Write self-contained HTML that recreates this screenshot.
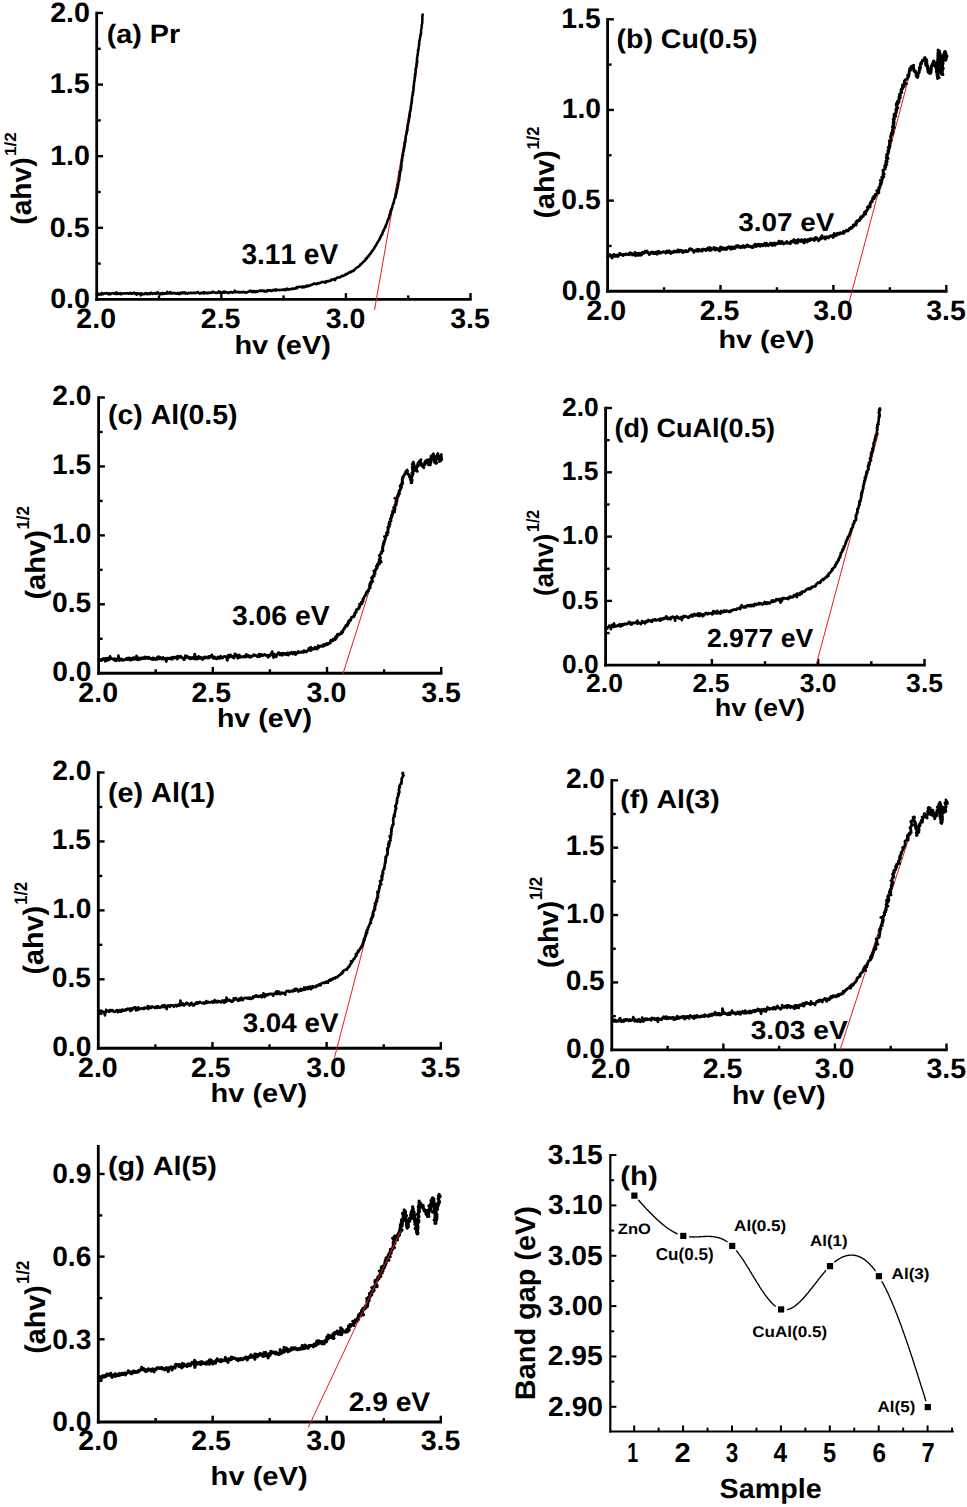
<!DOCTYPE html>
<html lang="en">
<head>
<meta charset="utf-8">
<title>Tauc plots and band gap</title>
<style>
html,body{margin:0;padding:0;background:#fff;}
body{width:967px;height:1507px;overflow:hidden;font-family:"Liberation Sans",sans-serif;}
svg{display:block;}
svg text{font-family:"Liberation Sans",sans-serif;font-kerning:none;text-rendering:geometricPrecision;}
</style>
</head>
<body>
<svg width="967" height="1507" viewBox="0 0 967 1507">
<rect x="0" y="0" width="967" height="1507" fill="#fff"/>
<line x1="96.70" y1="11.80" x2="96.70" y2="300.80" stroke="#000" stroke-width="2.8" stroke-linecap="butt"/>
<line x1="95.30" y1="299.40" x2="471.70" y2="299.40" stroke="#000" stroke-width="2.8" stroke-linecap="butt"/>
<line x1="221.30" y1="299.40" x2="221.30" y2="293.10" stroke="#000" stroke-width="2.4" stroke-linecap="butt"/>
<line x1="345.90" y1="299.40" x2="345.90" y2="293.10" stroke="#000" stroke-width="2.4" stroke-linecap="butt"/>
<line x1="470.50" y1="299.40" x2="470.50" y2="293.10" stroke="#000" stroke-width="2.4" stroke-linecap="butt"/>
<line x1="159.00" y1="299.40" x2="159.00" y2="295.40" stroke="#000" stroke-width="2.4" stroke-linecap="butt"/>
<line x1="283.60" y1="299.40" x2="283.60" y2="295.40" stroke="#000" stroke-width="2.4" stroke-linecap="butt"/>
<line x1="408.20" y1="299.40" x2="408.20" y2="295.40" stroke="#000" stroke-width="2.4" stroke-linecap="butt"/>
<line x1="96.70" y1="13.00" x2="103.00" y2="13.00" stroke="#000" stroke-width="2.4" stroke-linecap="butt"/>
<line x1="96.70" y1="84.60" x2="103.00" y2="84.60" stroke="#000" stroke-width="2.4" stroke-linecap="butt"/>
<line x1="96.70" y1="156.20" x2="103.00" y2="156.20" stroke="#000" stroke-width="2.4" stroke-linecap="butt"/>
<line x1="96.70" y1="227.80" x2="103.00" y2="227.80" stroke="#000" stroke-width="2.4" stroke-linecap="butt"/>
<line x1="96.70" y1="48.80" x2="100.70" y2="48.80" stroke="#000" stroke-width="2.4" stroke-linecap="butt"/>
<line x1="96.70" y1="120.40" x2="100.70" y2="120.40" stroke="#000" stroke-width="2.4" stroke-linecap="butt"/>
<line x1="96.70" y1="192.00" x2="100.70" y2="192.00" stroke="#000" stroke-width="2.4" stroke-linecap="butt"/>
<line x1="96.70" y1="263.60" x2="100.70" y2="263.60" stroke="#000" stroke-width="2.4" stroke-linecap="butt"/>
<text transform="translate(50.14,21.80) scale(1.0243,1)" font-size="28.00" font-weight="bold" fill="#000">2.0</text>
<text transform="translate(49.85,93.40) scale(1.0096,1)" font-size="28.41" font-weight="bold" fill="#000">1.5</text>
<text transform="translate(50.14,165.00) scale(1.0243,1)" font-size="28.00" font-weight="bold" fill="#000">1.0</text>
<text transform="translate(49.85,236.60) scale(1.0243,1)" font-size="28.00" font-weight="bold" fill="#000">0.5</text>
<text transform="translate(50.14,308.20) scale(1.0243,1)" font-size="28.00" font-weight="bold" fill="#000">0.0</text>
<text transform="translate(76.34,327.80) scale(1.0189,1)" font-size="28.00" font-weight="bold" fill="#000">2.0</text>
<text transform="translate(200.80,327.80) scale(1.0189,1)" font-size="28.00" font-weight="bold" fill="#000">2.5</text>
<text transform="translate(325.69,327.80) scale(1.0189,1)" font-size="28.00" font-weight="bold" fill="#000">3.0</text>
<text transform="translate(450.14,327.80) scale(1.0189,1)" font-size="28.00" font-weight="bold" fill="#000">3.5</text>
<text transform="translate(106.71,42.50) scale(1.0851,1)" font-size="26.48" font-weight="bold" fill="#000">(a) Pr</text>
<text transform="translate(241.44,263.70) scale(0.9776,1)" font-size="28.71" font-weight="bold" fill="#000">3.11 eV</text>
<text transform="translate(234.42,353.60) scale(1.1044,1)" font-size="26.21" font-weight="bold" fill="#000">hv (eV)</text>
<text transform="translate(31.30,224.67) rotate(-90) scale(0.9955,1)" font-size="28.28" font-weight="bold">(ahv)</text>
<text transform="translate(16.00,156.03) rotate(-90) scale(1.0533,1)" font-size="16.28" font-weight="bold">1/2</text>
<line x1="374.50" y1="310.00" x2="418.25" y2="61.00" stroke="#e41a22" stroke-width="1.0" stroke-linecap="butt"/>
<polyline points="96.7,293.8 97.3,294.2 97.8,294.7 98.3,293.6 98.9,294.8 99.5,294.4 100.0,294.0 100.6,294.3 101.1,294.6 101.6,293.1 102.2,293.2 102.7,293.4 103.3,294.3 103.8,293.7 104.4,293.3 104.9,293.6 105.5,293.4 106.0,293.5 106.6,293.0 107.1,293.0 107.7,293.8 108.2,293.4 108.8,294.4 109.3,293.3 109.9,293.7 110.5,294.1 111.0,293.5 111.5,293.5 112.1,293.3 112.6,293.1 113.2,293.4 113.7,293.2 114.3,293.0 114.9,294.0 115.4,293.1 115.9,293.2 116.5,292.2 117.1,294.1 117.6,293.3 118.1,293.5 118.7,293.7 119.2,293.3 119.8,293.7 120.4,294.2 120.9,293.1 121.5,293.8 122.0,293.9 122.6,293.8 123.1,293.5 123.6,293.2 124.2,293.3 124.7,293.6 125.3,293.3 125.8,293.6 126.4,293.2 126.9,293.5 127.5,293.3 128.0,293.3 128.6,293.7 129.1,293.5 129.7,293.5 130.2,292.7 130.8,293.6 131.3,293.1 131.9,293.7 132.4,293.3 133.0,293.3 133.5,293.0 134.1,292.5 134.6,293.5 135.2,294.0 135.8,293.9 136.3,293.1 136.9,294.7 137.4,293.2 137.9,293.4 138.5,293.5 139.1,293.8 139.6,293.2 140.2,293.9 140.7,295.4 141.2,293.3 141.8,293.9 142.4,294.4 142.9,293.7 143.5,294.2 144.0,294.3 144.5,293.5 145.1,293.5 145.6,293.0 146.2,294.1 146.7,293.3 147.3,293.3 147.9,294.2 148.4,293.5 149.0,293.6 149.5,293.1 150.1,294.2 150.6,293.2 151.1,292.7 151.7,293.4 152.2,293.3 152.8,294.0 153.3,293.4 153.9,293.6 154.4,293.1 155.0,293.4 155.6,293.9 156.1,293.0 156.6,292.8 157.2,293.6 157.7,292.1 158.3,293.0 158.8,293.3 159.4,293.6 160.0,294.5 160.5,293.3 161.1,293.4 161.6,293.4 162.2,294.1 162.7,292.8 163.3,293.9 163.8,293.2 164.4,293.5 164.9,293.8 165.4,293.2 166.0,293.1 166.6,293.8 167.1,291.8 167.6,293.2 168.2,293.4 168.7,292.7 169.3,292.8 169.8,293.3 170.4,292.0 171.0,293.5 171.5,292.7 172.0,293.3 172.6,293.5 173.1,293.2 173.7,292.7 174.3,293.4 174.8,293.1 175.3,293.0 175.9,293.7 176.5,293.7 177.0,293.3 177.5,292.8 178.1,293.7 178.6,293.0 179.2,294.1 179.7,293.1 180.3,292.6 180.9,293.7 181.4,293.0 181.9,293.1 182.5,292.2 183.0,293.2 183.6,293.0 184.1,292.2 184.7,292.6 185.3,293.6 185.8,292.9 186.4,293.3 186.9,293.0 187.5,293.7 188.0,293.2 188.5,292.8 189.1,293.3 189.6,293.1 190.2,293.1 190.7,292.6 191.3,293.3 191.8,292.8 192.4,293.0 192.9,293.1 193.5,293.0 194.0,292.5 194.6,292.8 195.2,293.2 195.7,293.1 196.2,292.5 196.8,292.7 197.3,292.5 197.9,291.9 198.4,292.7 199.0,292.9 199.6,293.6 200.1,293.2 200.6,293.1 201.2,293.5 201.7,292.7 202.3,292.6 202.8,292.9 203.4,293.4 203.9,292.1 204.5,293.4 205.0,292.9 205.6,293.1 206.1,292.5 206.7,292.7 207.3,293.3 207.8,292.8 208.4,293.2 208.9,292.6 209.4,293.0 210.0,292.9 210.5,292.7 211.1,292.9 211.6,292.0 212.2,292.6 212.7,291.7 213.3,292.2 213.8,292.1 214.4,292.1 214.9,292.6 215.5,292.9 216.1,293.1 216.6,292.8 217.1,292.4 217.7,292.9 218.2,292.7 218.8,291.3 219.3,292.3 219.9,292.9 220.4,291.9 221.0,293.1 221.5,292.7 222.1,292.5 222.6,292.8 223.2,292.4 223.7,291.5 224.3,291.4 224.8,292.8 225.4,291.9 225.9,292.0 226.5,292.2 227.0,292.5 227.6,292.8 228.1,292.4 228.7,293.1 229.3,292.7 229.8,292.4 230.3,292.0 230.9,291.9 231.4,292.1 232.0,292.5 232.6,292.7 233.1,292.4 233.6,292.3 234.2,292.0 234.7,290.6 235.3,292.2 235.8,291.6 236.4,291.8 236.9,292.3 237.5,291.9 238.0,292.2 238.6,291.7 239.1,292.0 239.7,292.4 240.2,292.4 240.8,292.2 241.3,292.0 241.9,292.3 242.4,292.4 243.0,291.7 243.5,291.7 244.1,292.0 244.7,292.5 245.2,292.5 245.7,292.2 246.3,292.7 246.8,292.0 247.4,292.3 247.9,291.9 248.5,291.8 249.0,291.2 249.6,291.5 250.1,290.6 250.7,291.1 251.2,291.4 251.8,292.0 252.3,290.9 252.9,291.9 253.5,292.1 254.0,291.0 254.6,292.1 255.1,292.2 255.6,291.9 256.2,291.0 256.8,292.0 257.3,291.2 257.8,291.7 258.4,291.1 258.9,290.9 259.4,290.6 260.0,290.4 260.6,291.2 261.1,290.6 261.6,290.8 262.2,290.6 262.7,290.5 263.3,291.2 263.8,290.5 264.4,291.4 265.0,291.1 265.5,291.0 266.1,291.8 266.6,291.2 267.1,290.4 267.7,291.1 268.2,290.1 268.8,290.7 269.3,290.4 269.9,290.5 270.4,290.1 271.0,291.0 271.6,290.8 272.1,290.9 272.6,290.1 273.2,290.4 273.7,289.7 274.3,290.2 274.8,289.6 275.3,289.4 276.0,290.6 276.5,289.7 277.0,289.8 277.6,289.8 278.1,290.1 278.7,289.9 279.2,290.0 279.8,290.2 280.3,289.9 280.9,289.8 281.4,289.7 282.0,290.1 282.5,289.9 283.0,289.4 283.6,289.4 284.2,290.0 284.7,289.4 285.3,290.3 285.8,289.5 286.4,289.6 286.8,288.5 287.5,289.3 288.1,289.8 288.6,289.6 289.1,289.2 289.6,288.9 290.2,289.3 290.8,289.3 291.3,289.3 291.8,288.7 292.3,288.5 292.9,289.0 293.4,288.5 294.0,288.5 294.6,288.7 295.2,288.8 295.6,288.0 296.2,288.2 296.6,287.1 297.3,288.2 297.7,287.2 298.2,287.0 298.7,286.7 299.3,286.9 299.8,286.7 300.4,286.9 301.0,287.2 301.6,287.3 302.2,287.4 302.5,286.4 303.2,286.8 303.9,287.4 304.2,286.5 304.9,287.0 305.4,286.7 306.0,286.6 306.3,285.7 306.9,285.6 307.6,286.5 308.0,285.7 308.6,286.0 309.1,285.3 309.7,285.8 310.3,285.6 310.7,284.9 311.2,284.8 311.8,284.9 312.2,284.5 312.8,284.3 313.3,284.2 313.7,283.6 314.2,283.4 314.9,283.8 315.5,284.0 316.0,283.7 316.7,284.2 317.2,284.1 317.6,283.1 318.1,282.9 318.8,283.5 319.3,283.3 319.7,282.8 320.4,283.0 320.9,282.7 321.3,282.3 321.8,282.0 322.3,281.8 323.0,282.1 323.6,282.2 324.1,282.1 324.6,281.7 325.4,282.7 325.9,282.3 326.2,281.3 326.8,281.4 327.3,281.0 328.0,281.5 328.4,281.0 328.9,280.8 329.6,281.1 330.1,280.8 330.6,280.7 331.1,280.6 331.4,279.5 332.0,279.5 332.6,279.8 333.1,279.3 333.7,279.6 334.2,279.4 335.1,280.2 335.1,278.6 335.8,278.8 336.2,278.5 336.7,278.2 337.1,277.7 337.6,277.3 338.3,277.6 338.9,277.6 339.4,277.6 340.0,277.4 340.3,276.7 340.8,276.5 341.4,276.6 341.9,276.2 342.2,275.7 342.8,275.7 343.6,276.0 343.9,275.4 344.4,275.3 344.9,275.0 345.5,274.8 345.6,273.9 346.5,274.4 346.9,274.1 347.3,273.7 347.8,273.4 348.3,273.1 348.6,272.6 349.2,272.6 349.9,272.6 350.1,271.9 350.7,271.8 351.4,271.9 351.6,271.3 352.3,271.2 352.6,270.7 353.5,271.0 353.9,270.7 354.1,270.0 354.5,269.6 355.1,269.5 355.4,268.9 355.7,268.4 356.1,268.1 356.4,267.6 357.0,267.4 357.5,267.2 358.2,267.2 358.4,266.5 358.9,266.3 359.4,266.0 359.8,265.7 360.0,265.0 360.3,264.5 360.8,264.3 361.2,263.9 361.7,263.6 362.2,263.4 362.3,262.7 362.8,262.4 363.3,262.1 363.6,261.7 363.8,261.1 364.6,261.0 365.0,260.7 365.2,260.1 365.5,259.7 366.0,259.4 365.7,258.4 366.8,258.6 366.9,258.0 367.4,257.7 367.4,256.9 367.8,256.6 368.2,256.2 368.8,256.0 368.9,255.3 369.2,254.9 369.5,254.5 370.2,254.2 370.5,253.8 370.6,253.2 370.9,252.7 371.6,252.6 371.6,251.9 371.7,251.3 372.3,251.0 372.5,250.5 373.0,250.1 373.1,249.6 373.5,249.2 373.9,248.8 374.3,248.4 374.2,247.7 374.6,247.3 375.0,246.9 375.2,246.3 375.5,245.9 375.9,245.5 376.2,245.0 376.5,244.5 376.6,244.0 377.0,243.6 377.1,243.0 377.5,242.6 377.8,242.1 378.1,241.7 378.4,241.2 378.5,240.7 379.1,240.3 379.3,239.8 379.4,239.3 379.8,238.9 379.8,238.2 380.4,237.9 380.3,237.2 380.7,236.8 380.8,236.3 381.2,235.9 381.2,235.2 381.5,234.8 382.2,234.5 382.3,233.9 382.5,233.4 382.5,232.8 382.7,232.3 382.8,231.8 383.4,231.4 383.6,230.9 383.4,230.2 384.1,229.9 384.2,229.3 384.4,228.9 384.7,228.4 384.8,227.8 385.2,227.4 385.6,227.0 385.3,226.3 385.8,225.8 385.8,225.3 386.2,224.8 386.4,224.3 386.6,223.8 386.7,223.3 387.1,222.8 387.1,222.2 387.2,221.7 387.3,221.1 387.7,220.7 387.9,220.2 388.2,219.7 388.0,219.1 388.6,218.7 388.9,218.2 388.9,217.6 389.0,217.0 389.2,216.5 389.4,216.0 389.5,215.5 389.3,214.8 390.1,214.5 389.9,213.9 390.0,213.3 390.4,212.9 390.3,212.3 390.4,211.7 390.9,211.3 390.8,210.7 391.1,210.2 391.5,209.8 391.3,209.1 391.8,208.7 391.7,208.1 392.4,207.7 392.2,207.1 392.2,206.5 392.4,206.0 392.5,205.5 392.6,204.9 392.9,204.5 393.1,203.9 393.4,203.4 393.8,203.0 393.6,202.4 394.0,201.9 394.1,201.4 394.0,200.8 394.1,200.2 394.3,199.7 394.5,199.2 394.8,198.7 395.1,198.2 395.4,197.7 395.2,197.1 395.7,196.7 395.5,196.0 395.9,195.6 396.1,195.1 395.7,194.4 396.0,193.9 396.5,193.5 396.3,192.8 396.6,192.3 396.5,191.8 397.0,191.3 396.7,190.7 396.8,190.1 397.2,189.6 397.1,189.1 397.2,188.5 397.3,188.0 397.8,187.5 397.7,186.9 397.7,186.4 398.0,185.9 397.5,185.2 398.2,184.8 398.2,184.3 398.3,183.7 398.3,183.1 398.5,182.6 398.6,182.1 398.7,181.5 398.7,181.0 398.9,180.5 399.3,180.0 399.1,179.4 399.4,178.9 399.1,178.3 399.3,177.7 399.4,177.2 399.6,176.7 399.4,176.1 399.8,175.6 399.6,175.0 399.8,174.5 399.7,173.9 400.1,173.4 400.0,172.8 399.6,172.2 400.3,171.8 400.3,171.2 400.7,170.7 400.4,170.1 401.2,169.7 401.0,169.1 401.0,168.5 401.0,168.0 401.3,167.5 401.1,166.9 401.4,166.4 401.5,165.8 401.4,165.3 401.4,164.7 401.4,164.1 401.4,163.6 401.7,163.1 401.6,162.5 401.6,162.0 401.8,161.4 401.8,160.9 402.2,160.4 402.0,159.8 402.0,159.2 402.2,158.7 402.3,158.2 402.6,157.7 402.4,157.1 402.4,156.5 402.6,156.0 402.5,155.4 403.1,155.0 403.3,154.4 403.1,153.8 403.0,153.3 403.1,152.7 403.1,152.2 403.5,151.7 403.3,151.1 403.6,150.6 403.9,150.1 404.0,149.5 403.9,149.0 403.9,148.4 404.0,147.9 404.5,147.4 404.4,146.8 404.2,146.2 404.6,145.7 404.7,145.2 404.7,144.6 404.6,144.1 404.8,143.5 404.6,142.9 405.0,142.4 405.5,142.0 405.4,141.4 405.3,140.8 405.5,140.3 405.5,139.7 405.6,139.2 405.6,138.6 405.6,138.1 405.8,137.6 405.8,137.0 405.9,136.5 405.9,135.9 406.1,135.4 406.3,134.9 406.3,134.3 406.4,133.8 406.8,133.3 406.6,132.7 406.8,132.2 406.8,131.6 407.0,131.1 407.5,130.6 407.1,130.0 407.5,129.5 407.5,128.9 407.3,128.3 407.4,127.8 407.4,127.2 407.6,126.7 407.8,126.2 407.8,125.6 407.7,125.1 408.1,124.6 408.0,124.0 408.2,123.5 408.4,122.9 408.5,122.4 408.7,121.9 408.7,121.3 408.7,120.8 408.8,120.2 409.1,119.7 408.8,119.1 409.1,118.6 408.9,118.0 409.3,117.5 409.6,117.0 409.5,116.4 409.3,115.8 409.9,115.4 409.4,114.7 409.7,114.2 409.9,113.7 410.0,113.2 409.9,112.6 409.8,112.0 410.1,111.5 410.5,111.0 410.5,110.5 410.7,109.9 410.7,109.4 410.7,108.8 410.8,108.3 410.9,107.7 411.1,107.2 410.8,106.6 411.1,106.1 411.0,105.5 411.3,105.0 411.2,104.5 411.4,103.9 411.6,103.4 411.6,102.8 411.7,102.3 411.8,101.8 412.0,101.2 411.7,100.6 411.7,100.1 412.0,99.6 411.8,99.0 412.2,98.5 412.0,97.9 412.0,97.3 412.3,96.8 412.2,96.3 412.3,95.7 412.6,95.2 413.0,94.7 412.9,94.1 412.7,93.6 412.6,93.0 413.2,92.5 412.9,91.9 413.3,91.4 413.2,90.8 413.3,90.3 413.6,89.8 413.6,89.2 413.6,88.7 413.3,88.1 413.6,87.6 413.7,87.0 413.5,86.4 413.9,85.9 413.8,85.4 413.8,84.8 414.1,84.3 414.0,83.7 413.9,83.2 414.1,82.6 414.1,82.1 414.3,81.6 414.2,81.0 414.6,80.5 414.4,79.9 414.5,79.4 414.6,78.8 414.8,78.3 414.9,77.8 414.7,77.2 415.2,76.7 415.2,76.1 414.9,75.5 415.3,75.0 414.9,74.4 415.1,73.9 415.4,73.4 415.5,72.8 415.5,72.3 415.7,71.8 415.8,71.2 415.4,70.6 415.6,70.1 415.5,69.5 415.5,69.0 415.7,68.4 415.9,67.9 416.2,67.4 416.0,66.8 416.3,66.3 416.4,65.7 416.6,65.2 416.3,64.6 416.6,64.1 416.5,63.5 416.7,63.0 416.6,62.5 416.9,61.9 416.9,61.4 417.0,60.8 417.1,60.3 416.8,59.7 417.1,59.2 417.0,58.6 417.0,58.1 417.2,57.5 417.3,57.0 417.3,56.4 417.4,55.9 417.7,55.4 417.8,54.8 417.5,54.2 417.6,53.7 417.8,53.2 418.0,52.6 418.2,52.1 418.0,51.5 418.1,51.0 417.8,50.4 418.5,49.9 418.3,49.4 418.6,48.8 418.6,48.3 418.5,47.7 418.7,47.2 418.9,46.7 419.0,46.1 419.0,45.6 418.8,45.0 419.2,44.5 419.1,43.9 419.3,43.4 419.3,42.8 419.2,42.3 419.2,41.7 419.4,41.2 419.4,40.6 419.8,40.1 419.9,39.6 419.8,39.0 420.0,38.5 420.0,37.9 420.2,37.4 420.2,36.8 420.3,36.3 420.4,35.8 420.4,35.2 420.8,34.7 420.7,34.2 421.1,33.6 421.2,33.1 420.9,32.5 421.1,32.0 421.2,31.4 421.1,30.9 421.0,30.3 421.1,29.8 421.2,29.2 421.5,28.7 421.6,28.2 421.7,27.6 421.6,27.1 421.7,26.5 421.8,26.0 421.6,25.4 421.8,24.9 421.9,24.3 422.2,23.8 422.2,23.2 422.3,22.7 422.2,22.1 422.3,21.6 422.4,21.0 422.3,20.5 422.2,19.9 422.5,19.4 422.4,18.8 422.3,18.3 422.4,17.7 422.4,17.2 422.4,16.6 422.1,16.1 422.6,15.5 422.6,15.0 422.7,14.4" fill="none" stroke="#000" stroke-width="2.5" stroke-linejoin="round" stroke-linecap="round"/>
<line x1="607.60" y1="18.10" x2="607.60" y2="292.65" stroke="#000" stroke-width="2.8" stroke-linecap="butt"/>
<line x1="606.20" y1="291.25" x2="947.50" y2="291.25" stroke="#000" stroke-width="2.8" stroke-linecap="butt"/>
<line x1="720.50" y1="291.25" x2="720.50" y2="284.95" stroke="#000" stroke-width="2.4" stroke-linecap="butt"/>
<line x1="833.40" y1="291.25" x2="833.40" y2="284.95" stroke="#000" stroke-width="2.4" stroke-linecap="butt"/>
<line x1="946.30" y1="291.25" x2="946.30" y2="284.95" stroke="#000" stroke-width="2.4" stroke-linecap="butt"/>
<line x1="664.05" y1="291.25" x2="664.05" y2="287.25" stroke="#000" stroke-width="2.4" stroke-linecap="butt"/>
<line x1="776.95" y1="291.25" x2="776.95" y2="287.25" stroke="#000" stroke-width="2.4" stroke-linecap="butt"/>
<line x1="889.85" y1="291.25" x2="889.85" y2="287.25" stroke="#000" stroke-width="2.4" stroke-linecap="butt"/>
<line x1="607.60" y1="19.30" x2="613.90" y2="19.30" stroke="#000" stroke-width="2.4" stroke-linecap="butt"/>
<line x1="607.60" y1="109.95" x2="613.90" y2="109.95" stroke="#000" stroke-width="2.4" stroke-linecap="butt"/>
<line x1="607.60" y1="200.60" x2="613.90" y2="200.60" stroke="#000" stroke-width="2.4" stroke-linecap="butt"/>
<line x1="607.60" y1="64.62" x2="611.60" y2="64.62" stroke="#000" stroke-width="2.4" stroke-linecap="butt"/>
<line x1="607.60" y1="155.27" x2="611.60" y2="155.27" stroke="#000" stroke-width="2.4" stroke-linecap="butt"/>
<line x1="607.60" y1="245.93" x2="611.60" y2="245.93" stroke="#000" stroke-width="2.4" stroke-linecap="butt"/>
<text transform="translate(561.37,27.80) scale(0.9963,1)" font-size="28.41" font-weight="bold" fill="#000">1.5</text>
<text transform="translate(561.65,118.45) scale(1.0108,1)" font-size="28.00" font-weight="bold" fill="#000">1.0</text>
<text transform="translate(561.37,209.10) scale(1.0108,1)" font-size="28.00" font-weight="bold" fill="#000">0.5</text>
<text transform="translate(561.65,299.75) scale(1.0108,1)" font-size="28.00" font-weight="bold" fill="#000">0.0</text>
<text transform="translate(586.54,319.70) scale(1.0189,1)" font-size="28.00" font-weight="bold" fill="#000">2.0</text>
<text transform="translate(699.80,319.70) scale(1.0189,1)" font-size="28.00" font-weight="bold" fill="#000">2.5</text>
<text transform="translate(813.19,319.70) scale(1.0189,1)" font-size="28.00" font-weight="bold" fill="#000">3.0</text>
<text transform="translate(926.24,319.70) scale(1.0189,1)" font-size="28.00" font-weight="bold" fill="#000">3.5</text>
<text transform="translate(616.46,47.70) scale(1.0617,1)" font-size="26.90" font-weight="bold" fill="#000">(b) Cu(0.5)</text>
<text transform="translate(738.19,231.25) scale(1.0859,1)" font-size="25.71" font-weight="bold" fill="#000">3.07 eV</text>
<text transform="translate(718.38,347.50) scale(1.1474,1)" font-size="25.10" font-weight="bold" fill="#000">hv (eV)</text>
<text transform="translate(554.20,218.49) rotate(-90) scale(1.0275,1)" font-size="27.86" font-weight="bold">(ahv)</text>
<text transform="translate(539.00,149.59) rotate(-90) scale(0.9508,1)" font-size="17.38" font-weight="bold">1/2</text>
<line x1="849.25" y1="301.75" x2="909.50" y2="75.00" stroke="#e41a22" stroke-width="1.0" stroke-linecap="butt"/>
<polyline points="607.6,256.6 608.1,256.0 608.7,255.9 609.3,256.1 609.7,254.5 610.4,256.0 610.9,256.4 611.5,256.9 612.1,258.0 612.5,255.1 613.1,255.7 613.7,256.1 614.1,254.4 614.8,256.6 615.3,255.1 615.8,255.4 616.4,255.7 616.9,254.9 617.6,256.6 618.1,256.3 618.5,254.9 619.1,255.4 619.6,253.4 620.1,254.0 620.7,253.7 621.3,254.6 621.8,254.5 622.4,254.8 623.0,255.6 623.5,254.6 624.0,254.2 624.6,254.5 625.2,254.8 625.7,254.0 626.3,254.6 626.8,254.0 627.3,254.2 627.9,254.5 628.4,253.9 629.0,254.8 629.5,253.1 630.0,252.8 630.6,254.0 631.1,253.2 631.7,253.4 632.3,255.0 632.9,254.6 633.4,254.4 634.0,254.8 634.5,254.5 634.9,252.3 635.7,255.9 636.2,254.4 636.7,254.3 637.2,253.2 637.8,254.8 638.4,255.4 638.8,253.1 639.4,254.1 640.0,254.7 640.6,255.3 641.0,253.1 641.7,254.9 642.2,253.4 642.6,252.2 643.2,253.2 643.8,253.4 644.3,252.9 644.8,251.8 645.3,251.1 645.9,251.6 646.5,252.2 647.0,251.0 647.6,252.9 648.1,252.4 648.8,253.2 649.4,254.6 649.9,253.7 650.4,253.6 650.9,252.4 651.5,252.6 652.0,252.0 652.6,253.3 653.2,253.5 653.6,252.1 654.3,253.6 654.8,252.6 655.4,253.2 656.0,253.8 656.4,251.8 657.1,254.2 657.6,253.7 658.1,253.2 658.5,251.2 659.2,253.1 659.7,252.1 660.3,252.1 660.9,253.1 661.4,252.5 661.9,252.4 662.5,252.0 663.0,252.0 663.5,251.6 664.1,252.1 664.6,251.8 665.2,252.2 665.8,253.1 666.3,251.6 666.8,251.0 667.4,251.8 668.0,252.5 668.5,251.1 669.0,250.7 669.6,251.4 670.2,252.3 670.8,253.5 671.3,251.9 671.9,252.5 672.4,252.7 673.0,252.6 673.4,251.5 674.0,251.0 674.6,252.0 675.1,251.8 675.7,252.0 676.2,251.1 676.8,251.7 677.3,251.4 677.8,249.9 678.4,251.8 679.0,251.9 679.5,251.9 680.0,250.2 680.6,250.5 681.1,250.8 681.7,250.4 682.3,252.1 682.9,252.6 683.3,251.0 683.9,251.8 684.5,251.4 685.0,251.7 685.5,250.5 686.1,250.7 686.7,251.8 687.2,251.3 687.8,251.5 688.3,250.9 688.8,250.4 689.3,249.2 689.8,248.9 690.4,248.7 691.0,249.5 691.5,249.6 692.1,249.2 692.7,250.6 693.2,250.8 693.9,252.3 694.4,251.0 694.9,250.8 695.4,250.1 696.0,250.3 696.6,251.0 697.0,249.5 697.6,249.2 698.2,251.4 698.7,250.7 699.2,249.4 699.8,250.3 700.4,250.4 700.9,250.2 701.5,251.2 702.1,251.1 702.5,249.2 703.1,250.1 703.6,249.1 704.2,249.6 704.7,249.5 705.3,249.2 705.9,250.6 706.4,249.9 707.0,249.9 707.4,248.5 707.9,247.8 708.6,248.9 709.2,250.2 709.7,249.1 710.1,247.5 710.8,250.3 711.4,250.1 711.8,248.5 712.4,248.8 712.9,248.4 713.5,249.0 714.0,247.4 714.7,249.7 715.2,250.1 715.7,248.2 716.3,248.8 716.8,248.5 717.4,249.4 717.9,248.6 718.5,249.7 719.2,250.9 719.7,251.0 720.2,250.0 720.5,246.9 721.3,249.5 721.7,248.1 722.4,249.4 722.8,247.6 723.5,249.4 724.0,248.9 724.5,248.2 725.1,248.6 725.7,249.4 726.1,248.1 726.8,249.2 727.2,247.4 727.7,247.5 728.3,247.7 728.8,246.7 729.4,247.9 729.9,247.3 730.6,249.2 731.0,246.8 731.6,247.3 732.2,247.9 732.8,248.9 733.2,246.9 733.9,248.1 734.4,247.9 735.0,248.4 735.4,246.6 736.0,247.4 736.4,245.7 736.9,245.6 737.5,245.7 738.0,245.4 738.7,247.3 739.2,246.8 739.8,247.1 740.5,247.7 740.9,246.4 741.5,247.2 742.1,247.3 742.5,246.2 743.0,245.6 743.6,245.9 744.3,247.5 744.7,246.1 745.4,247.0 745.8,246.2 746.4,246.7 746.9,245.8 747.3,244.9 747.9,245.4 748.6,246.3 749.2,246.8 749.7,246.3 750.3,246.6 750.8,246.3 751.5,247.4 752.0,246.8 752.6,247.5 753.1,247.5 753.5,245.8 754.0,245.2 754.7,246.2 755.0,244.1 755.7,245.1 756.4,246.6 756.7,244.3 757.3,244.8 757.9,244.9 758.3,244.1 759.0,245.7 759.5,244.4 760.2,246.4 760.7,245.4 761.1,244.5 761.7,244.5 762.2,244.6 762.9,245.8 763.3,244.4 763.9,244.7 764.4,244.3 764.9,243.1 765.7,245.8 766.0,243.5 766.5,243.2 767.1,243.8 767.8,244.6 768.4,245.8 768.9,244.6 769.4,244.6 770.0,244.7 770.4,243.0 771.0,243.9 771.5,243.3 772.3,245.6 772.7,243.7 773.2,243.8 773.8,244.4 774.2,242.9 775.0,245.3 775.4,243.4 776.0,243.6 776.5,243.7 777.1,243.9 777.6,243.4 778.1,242.5 778.7,242.9 779.1,241.2 779.8,243.5 780.3,243.2 780.9,243.5 781.3,241.5 781.8,241.4 782.4,241.9 783.2,243.7 783.7,244.0 784.2,243.3 784.8,243.2 785.3,242.8 785.8,242.6 786.4,243.1 786.8,241.5 787.5,242.6 788.1,243.2 788.6,242.7 789.2,243.0 789.7,243.2 790.3,243.8 790.7,242.2 791.2,241.2 791.8,242.1 792.4,242.2 792.8,240.9 793.4,241.3 793.8,239.6 794.5,241.5 795.3,243.0 795.6,241.1 796.1,240.4 796.7,240.9 797.5,243.0 797.9,241.9 798.2,239.3 798.9,241.1 799.5,241.0 800.0,240.5 800.6,241.4 801.1,240.8 801.5,239.6 802.2,240.6 802.9,242.0 803.3,240.4 804.1,243.0 804.6,242.1 804.8,239.4 805.4,240.1 806.0,240.4 806.6,240.2 807.4,242.0 807.6,239.7 808.2,240.0 808.7,239.5 809.4,240.5 809.7,238.9 810.5,240.3 810.8,238.7 811.4,239.0 811.9,239.0 812.6,239.5 813.1,239.1 813.7,239.7 814.4,240.5 814.6,238.5 815.3,239.4 815.6,237.3 816.2,238.1 816.8,237.8 817.6,239.4 818.4,240.8 818.8,240.1 819.4,240.0 819.8,239.3 820.1,238.1 820.8,238.8 821.4,238.7 821.5,236.4 821.9,235.6 822.9,237.7 823.3,237.2 824.1,238.2 824.4,236.8 825.4,239.1 825.6,237.4 826.1,237.3 826.6,236.8 827.2,237.1 827.9,237.4 828.5,237.9 828.9,237.2 829.3,236.5 829.8,236.1 830.4,236.3 830.8,235.6 831.5,235.8 832.1,236.2 833.0,237.5 833.2,236.1 833.4,234.8 834.3,236.1 834.2,233.4 835.4,235.9 835.8,235.0 836.1,234.3 836.9,235.0 837.1,233.7 837.5,233.1 838.2,233.5 839.0,234.3 839.5,234.1 839.7,233.1 840.2,232.7 841.0,233.3 841.5,233.1 842.2,233.4 842.8,233.3 842.9,232.2 844.0,233.3 843.7,231.2 844.6,231.8 845.1,231.7 845.5,231.2 846.0,231.1 846.2,230.3 847.1,230.7 847.9,231.0 848.0,230.1 848.8,230.2 848.9,229.4 849.1,228.7 849.8,228.8 850.4,228.7 850.7,228.2 850.8,227.4 852.0,228.0 852.2,227.4 852.7,227.1 852.9,226.5 853.6,226.4 853.1,225.0 854.4,225.7 854.3,224.7 855.0,224.7 856.2,225.0 855.8,223.9 856.5,223.8 855.8,222.4 856.9,222.7 856.6,221.6 856.7,221.0 857.2,220.7 858.4,221.1 859.0,220.8 858.8,219.9 859.9,220.2 859.8,219.3 860.3,219.0 860.8,218.7 860.4,217.7 861.7,218.0 860.9,216.7 862.0,216.9 862.5,216.5 863.3,216.4 863.2,215.7 863.2,215.0 863.7,214.7 864.2,214.3 864.6,213.9 865.7,214.0 864.4,212.4 865.1,212.3 866.1,212.3 865.8,211.4 865.8,210.8 866.7,210.7 867.1,210.3 867.3,209.7 867.7,209.3 868.1,209.0 867.7,208.1 867.3,207.2 868.3,207.2 868.4,206.5 870.2,207.0 870.0,206.2 869.9,205.5 869.8,204.8 870.4,204.5 870.4,203.9 870.1,203.1 870.6,202.7 870.9,202.3 871.0,201.7 872.2,201.8 872.1,201.1 872.0,200.4 872.5,200.0 872.7,199.5 873.0,199.0 872.6,198.1 874.2,198.6 874.3,197.9 874.3,197.3 873.8,196.3 875.3,196.6 875.1,195.8 875.4,195.4 876.0,195.1 875.4,194.1 876.4,194.1 876.8,193.6 877.5,193.4 877.6,192.8 878.9,192.8 877.6,191.6 876.8,190.6 878.9,190.9 878.5,190.2 878.7,189.7 879.3,189.3 879.2,188.7 878.6,187.9 879.5,187.6 880.1,187.2 879.5,186.4 879.7,185.9 879.9,185.4 880.3,185.0 881.1,184.6 880.2,183.8 880.5,183.3 880.5,182.7 881.7,182.5 881.1,181.8 881.8,181.4 880.2,180.4 881.8,180.2 882.3,179.8 882.2,179.2 882.2,178.6 882.6,178.2 881.6,177.4 883.4,177.2 883.9,176.8 883.1,176.0 883.3,175.5 882.9,174.9 883.0,174.3 884.3,174.1 883.6,173.3 883.3,172.7 883.1,172.1 883.3,171.5 883.1,170.9 882.8,170.3 883.3,169.8 884.1,169.5 885.2,169.2 885.0,168.6 885.0,168.0 884.8,167.4 885.8,167.0 884.6,166.2 884.8,165.7 884.9,165.2 885.9,164.8 886.8,164.5 885.8,163.7 885.8,163.1 885.6,162.5 886.8,162.2 887.2,161.7 886.0,160.9 886.8,160.5 886.6,159.9 886.6,159.3 887.0,158.9 888.1,158.5 886.2,157.5 887.4,157.2 887.0,156.6 887.3,156.1 886.9,155.5 886.5,154.8 887.6,154.5 887.3,153.9 887.6,153.4 888.4,153.0 888.2,152.4 888.3,151.8 888.8,151.4 887.8,150.6 888.3,150.1 888.9,149.7 888.6,149.1 889.2,148.6 889.0,148.0 888.1,147.3 889.7,147.0 889.2,146.4 890.0,146.0 889.7,145.4 889.3,144.7 889.6,144.2 889.8,143.7 889.4,143.1 889.8,142.6 890.1,142.1 889.4,141.4 889.2,140.8 891.2,140.6 890.9,140.0 890.9,139.4 890.8,138.9 890.8,138.3 890.7,137.7 890.8,137.2 890.4,136.6 891.2,136.1 890.8,135.5 891.5,135.1 891.3,134.5 892.3,134.1 891.4,133.4 891.3,132.8 893.0,132.6 892.3,131.9 892.9,131.4 892.3,130.8 892.9,130.3 892.4,129.7 892.8,129.2 892.9,128.6 893.2,128.1 894.2,127.7 892.4,126.9 894.0,126.6 893.0,125.9 892.9,125.3 893.3,124.8 893.9,124.3 893.3,123.7 894.1,123.2 893.0,122.5 893.4,122.0 894.2,121.6 893.7,120.9 893.9,120.4 893.2,119.7 893.2,119.2 894.5,118.9 894.4,118.3 894.4,117.7 893.9,117.0 893.9,116.5 895.7,116.3 894.9,115.6 895.5,115.1 894.0,114.3 895.0,113.9 895.7,113.5 895.6,112.9 896.3,112.5 896.1,111.9 896.1,111.3 896.5,110.8 895.8,110.1 896.9,109.8 896.1,109.1 896.3,108.6 896.7,108.1 897.9,107.8 896.6,106.9 896.7,106.4 897.0,105.9 896.1,105.1 897.0,104.8 897.7,104.4 896.4,103.5 898.0,103.3 897.5,102.6 899.0,102.4 897.3,101.4 898.6,101.2 899.2,100.8 898.8,100.1 898.8,99.5 899.4,99.1 898.9,98.4 899.5,98.0 900.4,97.7 899.0,96.7 899.5,96.3 899.8,95.8 900.3,95.4 899.5,94.6 899.6,94.0 900.3,93.7 900.6,93.2 901.1,92.8 901.8,92.5 901.1,91.6 901.6,91.2 901.2,90.5 901.0,89.8 901.6,89.5 901.4,88.8 902.8,88.8 902.3,88.0 903.0,87.7 902.4,86.8 903.1,86.5 904.3,86.5 902.4,85.0 903.6,84.9 904.4,84.7 904.7,84.2 904.3,83.4 906.3,83.7 904.9,82.5 904.2,81.6 904.4,81.1 904.9,80.7 905.0,80.1 905.6,79.8 906.4,79.6 906.7,79.1 906.7,78.5 907.6,78.3 907.7,77.7 907.8,77.2 908.0,76.7 908.7,76.4 907.6,75.3 908.2,74.9 909.0,74.9 909.1,74.6 909.0,73.6 909.3,70.7 909.2,73.1 909.4,70.1 909.6,69.4 910.6,70.3 909.7,68.8 912.1,67.3 911.0,66.7 910.8,68.1 913.2,65.9 913.8,65.3 913.1,65.6 912.6,65.7 912.9,65.7 913.3,67.9 913.2,69.0 913.7,69.0 913.7,67.6 913.7,69.2 913.9,71.1 915.7,72.3 915.0,71.2 915.5,70.9 916.0,73.2 916.8,74.2 915.9,74.5 916.7,75.1 916.3,76.4 917.5,77.5 917.5,76.5 917.8,77.0 918.0,76.5 918.1,74.1 916.8,74.2 918.1,73.1 919.2,72.7 918.5,72.7 918.8,73.1 920.0,68.5 919.7,70.5 919.0,70.5 919.7,68.5 919.3,67.9 920.7,67.7 920.5,66.8 920.1,66.9 920.3,64.9 920.5,64.9 920.6,63.4 921.6,63.8 920.6,63.8 921.8,61.6 922.7,61.2 922.5,60.2 924.1,60.0 924.0,59.5 925.0,57.6 924.6,57.7 925.0,58.2 924.9,58.4 924.6,57.8 926.6,59.7 926.4,61.4 926.0,60.8 926.1,61.3 927.0,61.4 925.5,62.5 925.7,65.2 926.3,66.0 927.1,63.7 927.2,65.9 927.6,65.8 927.5,69.0 927.4,69.0 927.6,68.2 928.0,72.1 929.7,68.8 929.4,70.9 929.1,71.1 929.8,72.4 929.6,73.5 930.9,73.1 931.1,72.1 930.0,71.2 930.9,70.6 930.9,68.4 931.4,70.3 931.1,66.1 930.9,67.5 930.9,69.9 931.6,67.1 931.7,66.4 932.5,63.4 932.7,63.3 933.2,65.5 933.1,64.1 933.8,60.9 933.3,61.2 934.1,62.7 934.1,61.1 934.4,64.2 934.5,62.4 935.2,66.5 935.5,63.8 936.5,64.8 936.1,69.0 936.0,67.2 936.0,66.8 936.5,68.2 936.8,68.6 936.8,69.5 936.8,70.8 936.3,71.7 936.8,72.5 937.4,73.3 936.9,74.8 937.1,73.1 938.0,75.3 937.6,75.7 937.9,76.7 939.2,77.6 937.5,78.5 937.5,77.2 938.4,75.3 937.3,76.1 937.3,76.5 937.4,73.2 937.6,75.4 938.0,72.2 938.6,72.9 937.2,73.7 936.6,70.2 938.1,68.9 939.1,70.7 938.4,69.9 937.5,69.1 938.0,64.5 937.9,68.8 937.8,67.6 938.4,63.7 939.2,64.3 937.8,65.9 937.2,62.1 938.1,62.1 938.2,60.9 939.1,61.1 938.4,60.6 937.6,59.1 937.7,61.4 938.6,57.7 938.7,57.0 938.1,57.6 937.7,55.8 937.8,55.8 938.9,53.6 937.7,53.6 939.0,52.3 938.4,52.5 938.1,52.9 938.2,52.0 938.0,49.9 938.3,50.5 939.5,50.8 938.8,52.2 939.1,54.0 939.1,54.6 939.1,51.3 940.5,54.5 939.2,56.5 940.2,55.4 940.3,55.9 940.9,59.6 940.6,58.0 938.9,57.7 940.1,58.6 939.6,60.3 939.0,59.8 940.6,61.5 940.3,62.8 939.8,62.4 940.7,63.0 941.5,65.3 941.8,65.0 941.7,66.3 940.6,65.1 942.4,68.0 941.0,66.7 940.5,68.5 941.1,72.1 941.5,69.9 942.1,69.6 942.1,72.1 941.1,72.1 942.4,74.4 942.1,72.3 943.0,74.7 942.3,74.3 941.4,74.1 941.4,72.0 942.4,72.1 942.4,70.1 942.2,69.7 943.3,68.0 943.0,69.4 941.9,68.0 942.8,67.4 942.6,66.4 941.8,65.0 942.4,64.9 942.6,65.4 943.2,63.4 942.1,64.0 943.2,60.7 941.6,60.2 942.2,59.6 943.7,60.3 942.9,60.8 941.3,59.6 942.8,59.3 943.2,59.5 942.9,56.2 943.3,57.4 944.8,56.8 943.4,55.6 944.4,52.0 944.4,53.4 945.1,51.4 945.5,52.0 945.8,52.9 946.0,53.5 946.1,56.2 945.3,55.7 946.5,56.4 945.2,54.7 947.1,56.1 945.9,58.8 946.2,59.3 945.8,60.2 945.6,60.3" fill="none" stroke="#000" stroke-width="2.8" stroke-linejoin="round" stroke-linecap="round"/>
<line x1="98.60" y1="396.30" x2="98.60" y2="674.65" stroke="#000" stroke-width="2.8" stroke-linecap="butt"/>
<line x1="97.20" y1="673.25" x2="442.40" y2="673.25" stroke="#000" stroke-width="2.8" stroke-linecap="butt"/>
<line x1="212.80" y1="673.25" x2="212.80" y2="666.95" stroke="#000" stroke-width="2.4" stroke-linecap="butt"/>
<line x1="327.00" y1="673.25" x2="327.00" y2="666.95" stroke="#000" stroke-width="2.4" stroke-linecap="butt"/>
<line x1="441.20" y1="673.25" x2="441.20" y2="666.95" stroke="#000" stroke-width="2.4" stroke-linecap="butt"/>
<line x1="155.70" y1="673.25" x2="155.70" y2="669.25" stroke="#000" stroke-width="2.4" stroke-linecap="butt"/>
<line x1="269.90" y1="673.25" x2="269.90" y2="669.25" stroke="#000" stroke-width="2.4" stroke-linecap="butt"/>
<line x1="384.10" y1="673.25" x2="384.10" y2="669.25" stroke="#000" stroke-width="2.4" stroke-linecap="butt"/>
<line x1="98.60" y1="397.50" x2="104.90" y2="397.50" stroke="#000" stroke-width="2.4" stroke-linecap="butt"/>
<line x1="98.60" y1="466.44" x2="104.90" y2="466.44" stroke="#000" stroke-width="2.4" stroke-linecap="butt"/>
<line x1="98.60" y1="535.38" x2="104.90" y2="535.38" stroke="#000" stroke-width="2.4" stroke-linecap="butt"/>
<line x1="98.60" y1="604.31" x2="104.90" y2="604.31" stroke="#000" stroke-width="2.4" stroke-linecap="butt"/>
<line x1="98.60" y1="431.97" x2="102.60" y2="431.97" stroke="#000" stroke-width="2.4" stroke-linecap="butt"/>
<line x1="98.60" y1="500.91" x2="102.60" y2="500.91" stroke="#000" stroke-width="2.4" stroke-linecap="butt"/>
<line x1="98.60" y1="569.84" x2="102.60" y2="569.84" stroke="#000" stroke-width="2.4" stroke-linecap="butt"/>
<line x1="98.60" y1="638.78" x2="102.60" y2="638.78" stroke="#000" stroke-width="2.4" stroke-linecap="butt"/>
<text transform="translate(52.36,405.30) scale(1.0054,1)" font-size="28.00" font-weight="bold" fill="#000">2.0</text>
<text transform="translate(52.07,474.24) scale(0.9910,1)" font-size="28.41" font-weight="bold" fill="#000">1.5</text>
<text transform="translate(52.36,543.17) scale(1.0054,1)" font-size="28.00" font-weight="bold" fill="#000">1.0</text>
<text transform="translate(52.07,612.11) scale(1.0054,1)" font-size="28.00" font-weight="bold" fill="#000">0.5</text>
<text transform="translate(52.36,681.05) scale(1.0054,1)" font-size="28.00" font-weight="bold" fill="#000">0.0</text>
<text transform="translate(78.34,701.70) scale(1.0189,1)" font-size="28.00" font-weight="bold" fill="#000">2.0</text>
<text transform="translate(191.40,701.70) scale(1.0189,1)" font-size="28.00" font-weight="bold" fill="#000">2.5</text>
<text transform="translate(306.59,701.70) scale(1.0189,1)" font-size="28.00" font-weight="bold" fill="#000">3.0</text>
<text transform="translate(421.14,701.70) scale(1.0189,1)" font-size="28.00" font-weight="bold" fill="#000">3.5</text>
<text transform="translate(107.97,424.35) scale(1.0337,1)" font-size="27.52" font-weight="bold" fill="#000">(c) Al(0.5)</text>
<text transform="translate(231.93,625.00) scale(1.0314,1)" font-size="27.50" font-weight="bold" fill="#000">3.06 eV</text>
<text transform="translate(216.89,727.00) scale(1.0902,1)" font-size="26.21" font-weight="bold" fill="#000">hv (eV)</text>
<text transform="translate(45.00,599.61) rotate(-90) scale(1.0431,1)" font-size="27.86" font-weight="bold">(ahv)</text>
<text transform="translate(29.00,529.61) rotate(-90) scale(0.9535,1)" font-size="17.66" font-weight="bold">1/2</text>
<line x1="342.75" y1="674.50" x2="403.25" y2="483.25" stroke="#e41a22" stroke-width="1.0" stroke-linecap="butt"/>
<polyline points="98.6,659.7 99.1,659.1 99.7,659.3 100.3,659.8 100.8,660.3 101.4,660.6 101.9,660.0 102.4,658.9 103.0,659.5 103.5,658.5 104.1,658.4 104.7,659.6 105.2,661.3 105.8,659.7 106.3,658.2 106.9,660.5 107.4,659.6 107.9,658.1 108.5,659.2 109.1,659.9 109.6,658.7 110.1,656.3 110.7,658.3 111.2,658.6 111.8,658.8 112.3,658.7 112.9,659.2 113.5,659.5 114.0,658.9 114.6,660.3 115.1,658.6 115.7,659.5 116.2,660.8 116.8,660.3 117.3,659.2 117.9,659.9 118.4,655.6 118.9,657.9 119.5,660.7 120.0,659.1 120.6,659.1 121.2,660.0 121.7,658.9 122.2,659.2 122.8,660.3 123.4,660.3 123.9,660.1 124.5,660.0 125.0,659.8 125.5,658.8 126.1,658.7 126.7,659.5 127.2,658.1 127.8,659.7 128.3,658.1 128.8,659.0 129.4,658.0 130.0,660.0 130.5,660.2 131.0,658.2 131.6,659.8 132.2,659.6 132.7,658.9 133.2,657.6 133.8,657.7 134.4,659.4 134.9,657.9 135.4,658.7 136.0,659.1 136.5,655.9 137.1,659.7 137.6,657.2 138.2,659.9 138.7,658.8 139.3,659.4 139.8,659.1 140.4,657.8 140.9,659.1 141.5,658.4 142.0,658.7 142.6,657.6 143.1,658.6 143.7,657.8 144.2,658.2 144.8,657.0 145.3,658.7 145.9,658.2 146.4,657.2 147.0,657.5 147.5,657.4 148.1,658.7 148.6,657.1 149.2,658.6 149.7,658.3 150.3,658.2 150.8,658.4 151.4,659.3 151.9,658.5 152.5,659.2 153.0,657.8 153.6,659.5 154.1,658.8 154.7,658.3 155.3,659.2 155.8,659.6 156.3,658.6 156.9,659.2 157.4,657.1 158.0,657.9 158.5,656.6 159.1,659.0 159.6,658.1 160.2,658.2 160.7,657.5 161.3,658.7 161.9,659.1 162.4,658.3 162.9,657.3 163.5,659.2 164.0,658.3 164.6,659.1 165.2,659.0 165.7,658.3 166.3,661.6 166.8,658.5 167.3,658.8 167.9,658.0 168.4,658.2 169.0,658.8 169.5,658.5 170.1,658.2 170.7,659.1 171.2,657.7 171.7,658.7 172.3,659.2 172.8,657.3 173.4,657.1 173.9,658.2 174.5,657.3 175.0,657.7 175.6,657.8 176.1,656.9 176.7,656.9 177.3,659.1 177.7,656.1 178.3,656.9 178.9,656.7 179.4,657.5 180.0,657.5 180.5,656.2 181.1,656.5 181.6,657.2 182.2,657.7 182.7,658.2 183.3,658.1 183.9,659.7 184.4,659.6 184.9,658.1 185.4,655.6 186.0,657.7 186.6,656.9 187.1,656.2 187.7,657.1 188.2,656.8 188.8,658.4 189.3,658.3 189.9,658.8 190.4,657.5 191.0,658.8 191.5,657.8 192.1,657.5 192.6,658.4 193.2,658.6 193.7,657.6 194.3,657.5 194.7,654.0 195.4,659.2 195.9,658.0 196.5,657.2 197.0,658.0 197.6,659.0 198.1,658.3 198.6,656.4 199.2,657.4 199.8,658.4 200.3,657.2 200.9,658.2 201.5,658.5 202.0,657.6 202.6,659.7 203.1,658.8 203.6,657.3 204.2,657.8 204.7,657.0 205.3,658.1 205.8,656.9 206.4,657.6 206.9,657.6 207.5,657.8 208.0,658.1 208.5,656.4 209.1,657.8 209.7,657.3 210.2,656.5 210.8,657.1 211.3,656.5 211.8,654.9 212.4,656.7 213.0,657.6 213.6,658.4 214.1,656.9 214.6,656.9 215.2,657.9 215.8,658.7 216.3,658.4 216.9,658.9 217.4,657.6 217.9,656.9 218.5,657.6 219.1,658.1 219.6,658.5 220.1,658.0 220.6,656.1 221.2,657.9 221.8,657.1 222.4,658.2 222.9,657.5 223.4,656.8 224.0,656.5 224.5,656.4 225.1,656.7 225.6,656.5 226.2,657.1 226.8,658.4 227.4,660.4 227.8,655.6 228.3,655.1 228.9,657.5 229.4,655.3 230.0,656.1 230.5,654.8 231.1,656.7 231.7,656.9 232.2,656.4 232.8,656.3 233.4,657.8 233.9,658.1 234.4,656.4 234.9,653.8 235.5,656.1 236.0,655.4 236.5,654.6 237.1,655.9 237.8,658.3 238.2,656.1 238.8,655.8 239.3,655.0 240.0,657.5 240.5,656.6 241.0,656.5 241.6,656.7 242.1,656.6 242.7,657.2 243.2,656.9 243.8,656.4 244.3,656.8 244.9,656.9 245.4,655.4 246.0,657.1 246.4,654.4 247.0,655.7 247.6,655.5 248.2,656.5 248.7,655.4 249.3,657.1 249.8,656.0 250.4,657.3 251.0,656.9 251.5,656.1 252.0,656.5 252.6,656.2 253.1,656.0 253.6,654.6 254.2,655.3 254.7,655.3 255.3,655.3 255.8,655.1 256.4,656.1 257.0,656.2 257.6,656.8 258.1,656.5 258.6,655.5 259.0,654.1 259.8,656.6 260.2,654.3 260.8,655.5 261.3,655.7 261.8,654.6 262.5,655.7 263.0,655.5 263.5,654.8 264.0,654.8 264.6,654.4 265.2,655.4 265.7,655.0 266.3,655.5 266.8,655.5 267.4,655.3 268.1,657.3 268.5,655.1 269.1,655.8 269.6,656.2 270.1,655.1 270.7,655.1 271.1,653.3 271.8,654.7 272.2,651.7 272.9,654.9 273.6,657.6 274.0,654.6 274.5,654.2 275.1,655.9 275.6,655.0 276.3,656.8 276.8,655.4 277.2,654.3 277.8,653.8 278.3,652.6 278.9,653.9 279.4,653.0 280.0,655.0 280.6,655.0 281.1,654.6 281.6,653.4 282.3,655.3 282.8,654.4 283.2,653.2 283.9,654.4 284.4,653.4 284.9,653.5 285.5,654.3 286.1,654.9 286.6,653.5 287.2,654.6 287.6,652.7 288.3,655.2 288.8,653.7 289.4,654.2 289.8,653.0 290.4,653.5 290.9,653.3 291.4,652.1 292.0,652.9 292.7,654.0 293.1,653.0 293.7,652.8 294.1,652.2 294.9,654.0 295.6,654.6 295.8,652.4 296.4,652.8 297.0,653.1 297.6,653.1 298.1,652.8 298.4,651.4 299.1,652.2 299.7,652.4 300.2,652.2 300.9,652.6 301.3,652.2 301.8,651.6 302.3,651.6 303.1,652.4 303.6,652.4 303.8,650.8 304.4,650.6 305.2,651.6 305.7,651.4 306.4,652.1 306.8,651.4 307.2,650.8 307.8,650.7 308.1,649.9 308.7,649.8 308.8,648.3 309.9,650.0 310.6,650.6 310.3,647.4 310.8,647.2 312.0,649.6 312.3,648.4 312.9,648.8 313.6,649.0 313.9,648.0 314.4,647.9 315.2,648.8 315.3,647.1 315.9,647.4 317.1,649.2 317.2,647.7 317.8,647.9 318.4,647.9 318.2,645.7 319.3,647.1 319.8,646.8 320.1,646.1 320.6,645.9 321.3,646.2 321.7,645.8 322.6,646.5 322.7,645.2 323.7,646.1 324.2,646.0 324.0,644.3 324.9,644.8 325.6,644.9 325.7,644.0 326.8,644.9 326.7,643.4 327.6,644.0 328.4,644.2 328.5,643.3 329.2,643.4 329.4,642.8 330.3,643.1 330.3,642.1 330.4,641.2 331.2,641.4 330.9,640.0 332.2,640.9 332.2,640.0 333.3,640.5 333.0,639.3 333.4,638.9 334.6,639.5 335.4,639.6 335.7,639.1 335.9,638.5 335.3,636.9 336.2,637.1 337.1,637.3 336.5,635.8 337.3,635.9 337.6,635.3 337.3,634.2 338.6,634.9 339.3,634.8 339.2,633.9 340.2,634.1 340.9,634.0 341.1,633.4 341.8,633.4 341.3,632.1 341.6,631.6 342.9,632.1 342.5,631.0 342.9,630.6 343.3,630.2 343.4,629.5 343.6,629.0 344.3,628.9 344.2,628.1 344.8,627.9 345.0,627.3 345.1,626.7 345.8,626.6 346.6,626.5 346.0,625.3 346.9,625.3 347.8,625.3 347.3,624.3 347.7,623.9 347.8,623.3 348.8,623.3 348.1,622.2 348.7,621.9 349.2,621.6 348.8,620.6 350.1,620.8 350.0,620.1 350.9,620.1 350.6,619.2 351.1,618.9 351.1,618.2 351.5,617.8 351.5,617.2 352.5,617.2 353.2,617.0 353.9,616.8 353.5,615.9 354.2,615.6 354.7,615.3 354.9,614.8 354.6,614.0 354.6,613.3 355.3,613.1 355.4,612.5 356.2,612.4 355.9,611.6 356.3,611.1 356.0,610.3 356.9,610.2 356.6,609.4 357.5,609.3 358.3,609.1 358.6,608.7 358.5,608.0 359.3,607.8 359.0,607.0 359.3,606.5 360.1,606.3 360.1,605.7 359.9,605.0 359.5,604.1 360.8,604.2 360.9,603.6 362.1,603.7 361.5,602.7 361.4,602.0 362.1,601.8 362.8,601.6 363.2,601.1 362.9,600.4 362.8,599.7 362.8,599.1 363.6,598.8 363.4,598.1 363.9,597.8 364.2,597.3 364.3,596.7 364.6,596.3 365.0,595.9 365.2,595.3 365.9,595.1 365.9,594.4 366.3,594.1 366.0,593.3 366.5,592.9 366.4,592.3 367.5,592.2 367.0,591.4 367.7,591.1 368.5,590.8 368.7,590.3 368.8,589.8 368.6,589.1 369.0,588.6 369.3,588.2 370.2,587.9 370.4,587.4 369.3,586.3 369.7,585.9 370.0,585.5 370.6,585.1 369.6,584.1 370.7,584.0 371.2,583.6 370.4,582.6 370.4,582.1 371.1,581.7 372.3,581.6 372.9,581.3 372.0,580.3 371.9,579.7 372.1,579.2 372.3,578.7 371.4,577.8 372.6,577.6 372.8,577.1 372.6,576.4 373.8,576.3 374.4,575.9 373.7,575.1 374.0,574.6 374.4,574.2 374.1,573.5 375.2,573.3 374.9,572.6 374.7,571.9 373.7,571.0 375.1,570.9 375.6,570.5 375.1,569.7 375.7,569.4 376.5,569.1 376.4,568.5 376.4,567.9 377.4,567.7 376.7,566.8 376.3,566.1 377.7,566.0 377.4,565.3 377.9,564.9 377.4,564.2 379.3,564.2 379.6,563.7 378.7,562.9 378.6,562.3 378.8,561.7 381.4,562.0 379.6,560.8 380.8,560.6 379.1,559.5 379.8,559.2 379.8,558.6 380.0,558.1 380.7,557.7 379.9,556.9 379.7,556.3 379.2,555.5 379.7,555.1 380.0,554.6 380.5,554.2 380.8,553.7 381.6,553.4 381.2,552.7 381.2,552.1 382.2,551.8 381.8,551.2 383.0,550.9 382.4,550.2 382.8,549.7 382.9,549.2 382.3,548.4 382.8,548.0 382.7,547.4 382.8,546.9 383.2,546.4 382.7,545.7 383.2,545.3 383.1,544.7 383.9,544.3 383.7,543.7 383.3,543.0 384.0,542.6 384.6,542.2 384.0,541.5 384.1,540.9 384.4,540.5 385.0,540.1 385.2,539.5 385.5,539.0 385.3,538.4 385.0,537.8 385.1,537.2 384.4,536.5 386.2,536.4 386.1,535.8 386.2,535.3 387.4,535.0 386.8,534.3 386.9,533.7 386.5,533.0 387.3,532.7 388.3,532.4 387.5,531.6 387.9,531.2 387.7,530.5 387.9,530.0 388.3,529.6 388.4,529.0 387.9,528.3 387.7,527.7 388.2,527.3 388.3,526.7 389.5,526.5 388.9,525.7 388.8,525.1 389.7,524.8 390.1,524.4 388.9,523.4 389.1,522.9 389.7,522.5 389.4,521.8 390.1,521.5 391.0,521.2 391.0,520.6 391.0,520.1 390.2,519.2 390.3,518.7 390.9,518.3 391.1,517.8 391.6,517.3 392.0,516.9 391.4,516.1 391.9,515.7 391.4,515.0 392.4,514.7 392.3,514.1 392.7,513.6 392.3,513.0 392.9,512.6 392.6,511.9 394.7,512.0 392.6,510.8 393.3,510.4 394.0,510.0 395.0,509.8 394.4,509.0 395.0,508.6 393.5,507.6 394.4,507.3 395.0,506.9 395.0,506.3 395.2,505.8 394.8,505.1 396.2,504.9 395.5,504.2 396.5,503.9 396.2,503.2 396.0,502.6 395.6,501.9 396.3,501.5 397.0,501.2 396.7,500.5 396.4,499.8 396.1,499.2 394.8,498.2 397.0,498.3 397.2,497.8 397.3,497.2 397.3,496.7 397.3,496.1 398.3,495.8 398.2,495.2 398.4,494.7 398.2,494.1 399.5,493.9 398.5,493.0 398.9,492.5 399.3,492.1 399.5,491.6 399.0,490.8 399.8,490.5 400.0,490.0 400.1,489.5 400.7,489.1 400.5,488.4 400.4,487.8 401.5,487.6 400.8,486.8 400.0,486.0 401.5,485.9 401.3,485.2 400.9,484.5 401.4,484.1 402.8,483.0 401.5,485.3 402.6,481.7 401.9,482.7 402.4,481.3 402.3,481.0 402.6,479.9 402.0,479.8 403.3,477.6 403.0,477.1 402.5,477.3 402.9,478.5 403.4,475.9 404.2,475.4 404.7,474.4 405.0,473.5 404.7,473.5 405.9,473.5 406.4,471.4 405.7,471.6 407.6,471.2 407.1,469.9 406.9,470.7 407.2,473.0 407.8,473.2 407.5,473.6 408.1,474.4 408.8,474.7 408.6,474.2 410.7,476.9 409.2,477.0 411.5,477.5 410.3,477.3 411.2,479.0 410.2,479.7 411.3,480.5 412.3,480.1 411.7,483.0 411.0,482.8 411.9,481.5 410.3,479.4 411.8,481.9 411.0,480.0 411.7,479.0 411.2,478.8 411.9,477.5 411.9,476.8 413.2,474.0 412.2,473.9 412.5,473.4 413.0,472.6 411.9,473.1 411.8,472.7 412.9,471.7 413.5,471.6 412.3,469.3 412.7,468.7 413.2,467.5 412.2,467.0 412.8,466.8 412.7,466.8 413.4,465.8 412.1,464.3 412.9,464.0 412.8,463.0 413.5,462.0 413.5,464.3 414.0,463.9 414.0,466.8 415.0,466.6 413.0,466.2 416.0,467.2 414.0,468.4 416.3,467.8 414.1,468.3 415.5,470.2 415.9,469.7 416.5,470.5 417.4,471.3 416.4,470.1 416.8,471.2 416.0,468.5 416.7,468.6 416.2,469.7 416.9,465.7 417.0,466.1 418.3,466.2 417.6,465.4 417.7,463.5 418.8,463.0 418.9,464.2 418.0,462.9 419.0,462.0 419.3,462.1 419.3,461.6 419.7,461.0 421.0,459.6 420.4,461.1 420.2,461.4 420.1,461.4 421.4,463.3 421.0,463.3 420.9,464.6 422.1,464.7 421.8,466.0 423.3,465.1 422.9,466.8 423.9,467.7 422.8,465.2 423.9,466.5 424.0,465.1 423.6,464.9 425.1,464.6 424.5,463.7 424.9,461.5 426.0,463.1 425.8,460.5 426.5,461.0 426.7,460.3 427.6,459.8 428.3,460.1 429.2,462.0 428.3,461.7 428.9,460.0 428.7,463.4 428.7,463.3 428.4,464.9 429.0,463.9 430.3,465.0 430.6,462.6 430.8,463.1 431.3,460.6 430.8,461.1 430.0,461.4 429.9,459.3 431.4,459.3 430.4,458.6 431.9,458.3 430.9,455.9 431.4,457.8 432.1,455.7 433.4,454.2 432.2,455.1 433.5,453.7 433.4,454.4 434.1,456.0 433.1,454.6 433.5,456.3 434.3,456.6 434.0,457.5 433.4,459.6 433.7,459.9 435.4,460.3 434.3,461.6 434.4,461.6 435.7,462.3 434.5,462.5 435.8,463.5 436.7,463.2 435.6,460.8 435.7,461.7 436.2,461.8 435.0,461.1 436.0,458.8 436.0,456.8 437.2,459.0 436.5,456.4 437.2,457.5 436.5,456.2 436.7,455.9 437.9,453.4 438.0,455.9 437.3,457.2 439.7,457.3 438.6,456.8 440.3,459.1 439.0,459.2 439.5,458.7 440.6,460.0 439.4,460.3 439.2,461.6 439.6,460.0 440.7,460.8 441.8,459.5 441.6,458.4 440.6,458.3 441.5,456.3 441.5,456.6 440.1,456.6 441.4,454.4" fill="none" stroke="#000" stroke-width="2.7" stroke-linejoin="round" stroke-linecap="round"/>
<line x1="605.60" y1="406.80" x2="605.60" y2="666.60" stroke="#000" stroke-width="2.8" stroke-linecap="butt"/>
<line x1="604.20" y1="665.20" x2="925.70" y2="665.20" stroke="#000" stroke-width="2.8" stroke-linecap="butt"/>
<line x1="711.90" y1="665.20" x2="711.90" y2="658.90" stroke="#000" stroke-width="2.4" stroke-linecap="butt"/>
<line x1="818.20" y1="665.20" x2="818.20" y2="658.90" stroke="#000" stroke-width="2.4" stroke-linecap="butt"/>
<line x1="924.50" y1="665.20" x2="924.50" y2="658.90" stroke="#000" stroke-width="2.4" stroke-linecap="butt"/>
<line x1="658.75" y1="665.20" x2="658.75" y2="661.20" stroke="#000" stroke-width="2.4" stroke-linecap="butt"/>
<line x1="765.05" y1="665.20" x2="765.05" y2="661.20" stroke="#000" stroke-width="2.4" stroke-linecap="butt"/>
<line x1="871.35" y1="665.20" x2="871.35" y2="661.20" stroke="#000" stroke-width="2.4" stroke-linecap="butt"/>
<line x1="605.60" y1="408.00" x2="611.90" y2="408.00" stroke="#000" stroke-width="2.4" stroke-linecap="butt"/>
<line x1="605.60" y1="472.30" x2="611.90" y2="472.30" stroke="#000" stroke-width="2.4" stroke-linecap="butt"/>
<line x1="605.60" y1="536.60" x2="611.90" y2="536.60" stroke="#000" stroke-width="2.4" stroke-linecap="butt"/>
<line x1="605.60" y1="600.90" x2="611.90" y2="600.90" stroke="#000" stroke-width="2.4" stroke-linecap="butt"/>
<line x1="605.60" y1="440.15" x2="609.60" y2="440.15" stroke="#000" stroke-width="2.4" stroke-linecap="butt"/>
<line x1="605.60" y1="504.45" x2="609.60" y2="504.45" stroke="#000" stroke-width="2.4" stroke-linecap="butt"/>
<line x1="605.60" y1="568.75" x2="609.60" y2="568.75" stroke="#000" stroke-width="2.4" stroke-linecap="butt"/>
<line x1="605.60" y1="633.05" x2="609.60" y2="633.05" stroke="#000" stroke-width="2.4" stroke-linecap="butt"/>
<text transform="translate(562.01,415.80) scale(1.0160,1)" font-size="26.00" font-weight="bold" fill="#000">2.0</text>
<text transform="translate(561.74,480.10) scale(1.0015,1)" font-size="26.38" font-weight="bold" fill="#000">1.5</text>
<text transform="translate(562.01,544.40) scale(1.0160,1)" font-size="26.00" font-weight="bold" fill="#000">1.0</text>
<text transform="translate(561.74,608.70) scale(1.0160,1)" font-size="26.00" font-weight="bold" fill="#000">0.5</text>
<text transform="translate(562.01,673.00) scale(1.0160,1)" font-size="26.00" font-weight="bold" fill="#000">0.0</text>
<text transform="translate(586.00,692.00) scale(1.0218,1)" font-size="26.00" font-weight="bold" fill="#000">2.0</text>
<text transform="translate(692.57,692.00) scale(1.0218,1)" font-size="26.00" font-weight="bold" fill="#000">2.5</text>
<text transform="translate(799.64,692.00) scale(1.0218,1)" font-size="26.00" font-weight="bold" fill="#000">3.0</text>
<text transform="translate(906.10,692.00) scale(1.0218,1)" font-size="26.00" font-weight="bold" fill="#000">3.5</text>
<text transform="translate(614.53,437.15) scale(1.0172,1)" font-size="26.55" font-weight="bold" fill="#000">(d) CuAl(0.5)</text>
<text transform="translate(706.95,646.50) scale(1.0182,1)" font-size="26.07" font-weight="bold" fill="#000">2.977 eV</text>
<text transform="translate(714.74,715.75) scale(1.1067,1)" font-size="24.48" font-weight="bold" fill="#000">hv (eV)</text>
<text transform="translate(553.20,596.07) rotate(-90) scale(0.9654,1)" font-size="27.03" font-weight="bold">(ahv)</text>
<text transform="translate(538.90,531.96) rotate(-90) scale(0.8984,1)" font-size="17.79" font-weight="bold">1/2</text>
<line x1="816.25" y1="664.50" x2="878.25" y2="434.00" stroke="#e41a22" stroke-width="1.0" stroke-linecap="butt"/>
<polyline points="605.7,627.5 606.4,628.6 606.8,627.8 607.4,628.3 607.9,627.3 608.3,626.7 608.9,626.5 609.3,625.5 609.9,625.9 610.9,629.2 611.0,626.1 611.6,626.4 612.0,624.8 612.7,626.4 613.4,627.1 613.8,626.2 614.0,623.2 615.0,626.7 615.5,626.6 616.1,626.3 616.6,626.0 617.1,625.6 617.7,626.2 618.1,625.1 618.7,625.6 619.3,625.6 619.7,624.2 620.5,626.6 620.9,625.0 621.4,624.5 622.1,625.7 622.6,625.7 623.0,624.1 623.6,624.8 624.2,624.7 624.6,624.0 625.1,623.6 625.8,624.3 626.3,624.2 626.9,624.3 627.4,624.1 627.8,622.9 628.4,623.5 629.0,623.5 629.3,621.8 630.0,622.7 630.8,624.6 631.1,622.7 631.9,624.4 632.2,622.8 632.8,623.2 633.3,622.9 633.9,622.8 634.5,623.2 635.0,622.6 635.5,622.4 636.1,622.6 636.5,621.6 637.3,623.7 637.5,620.6 638.4,623.2 638.9,623.2 639.5,622.9 640.1,623.4 640.8,624.3 641.2,623.8 641.7,623.1 642.0,621.0 642.8,622.7 643.2,621.9 643.7,621.6 644.4,622.8 645.1,623.4 645.5,622.3 645.9,621.3 646.6,622.2 647.0,620.9 647.5,620.5 648.1,621.4 648.5,619.9 649.1,620.6 649.6,620.3 650.2,620.6 650.9,621.5 651.3,620.5 652.1,621.8 652.4,620.1 652.9,619.6 653.6,620.5 654.1,620.5 654.6,620.2 655.1,619.2 655.6,619.5 656.3,620.4 656.8,619.9 657.4,620.1 657.9,619.9 658.4,619.5 659.0,619.4 659.7,620.7 660.2,620.7 660.5,618.6 661.3,620.0 661.8,619.9 662.2,618.6 662.8,619.4 663.3,618.4 663.9,618.9 664.3,617.8 664.9,618.1 665.5,618.5 666.0,618.4 666.3,616.2 667.1,617.7 667.8,619.1 668.3,618.4 668.8,617.9 669.4,618.7 670.0,619.0 670.6,619.3 670.9,617.4 671.5,618.0 672.0,617.2 672.5,616.5 673.1,616.8 673.7,617.5 674.2,617.1 675.2,620.8 675.5,618.4 675.9,617.1 676.5,617.5 676.9,616.3 677.5,616.9 678.2,618.2 678.7,617.7 679.4,618.6 679.9,618.4 680.5,618.5 680.8,617.1 681.8,620.2 681.9,617.0 682.5,616.8 683.1,617.8 683.6,617.3 684.0,615.9 684.6,616.4 685.2,616.6 685.7,616.2 686.3,616.6 686.9,616.7 687.5,617.5 688.1,617.8 688.6,616.8 689.2,617.3 689.6,616.0 690.1,615.9 690.7,615.9 691.1,615.1 691.6,614.6 692.4,616.6 692.8,614.9 693.4,615.8 693.9,615.1 694.3,613.9 694.9,614.3 695.6,615.5 696.1,615.1 696.6,614.5 697.2,615.1 697.9,615.8 698.1,613.2 698.9,615.4 699.6,616.1 700.0,615.1 700.4,613.4 701.0,614.5 701.6,614.5 702.4,616.3 702.7,614.4 703.4,616.0 703.8,614.6 704.4,615.0 704.8,613.8 705.4,613.7 705.8,612.8 706.4,613.2 707.1,614.0 707.7,614.4 708.1,613.1 708.7,613.8 709.3,613.7 709.7,613.3 710.3,613.5 710.9,613.3 711.4,612.9 712.1,614.5 712.5,612.8 713.2,614.0 713.3,611.0 714.1,612.7 714.4,611.2 715.1,612.2 715.9,613.4 716.4,613.1 717.0,613.4 717.2,610.9 718.1,613.2 718.4,611.8 719.0,612.2 719.7,612.7 720.4,613.6 720.7,612.3 721.1,610.9 721.7,611.8 722.3,611.9 723.0,612.4 723.4,612.0 723.8,610.5 724.5,611.7 725.1,611.6 725.6,611.7 726.2,611.6 726.5,610.4 727.2,611.1 727.7,611.0 728.4,611.6 729.1,612.0 729.4,611.1 730.2,611.9 730.5,610.8 731.0,610.4 731.7,611.0 732.1,610.4 732.5,609.8 733.2,610.2 733.7,609.7 734.1,609.3 734.7,609.6 735.4,609.8 735.9,609.7 736.5,609.6 736.8,608.7 737.5,609.0 737.9,608.6 738.5,608.8 739.0,608.4 739.5,608.0 740.3,609.1 740.3,606.8 741.1,607.6 741.6,607.5 741.6,605.1 742.6,607.0 743.2,607.0 743.9,607.6 744.2,606.6 744.9,607.1 745.5,607.3 746.1,607.4 746.3,605.9 746.9,606.0 747.4,605.8 747.8,605.2 748.5,605.6 749.2,606.2 749.6,605.4 750.3,606.0 750.6,604.9 751.5,606.2 751.9,605.6 752.3,604.8 753.0,605.6 753.7,606.1 754.1,605.5 754.4,603.9 754.9,603.8 755.7,605.0 756.2,604.9 756.6,603.9 757.3,604.4 757.7,604.0 758.3,604.3 758.9,604.4 759.2,602.9 760.0,604.0 760.4,603.4 761.1,603.9 761.5,603.3 762.3,604.6 762.8,604.2 763.4,604.1 763.8,603.5 764.3,603.1 764.6,601.9 765.5,603.8 765.8,602.3 766.7,603.8 767.1,603.0 767.5,602.3 768.3,603.3 768.7,602.8 769.2,602.5 770.0,603.4 770.3,602.5 770.9,602.3 771.4,602.0 771.6,600.6 772.4,601.4 773.0,601.9 773.2,600.3 773.9,600.9 774.6,601.4 775.0,600.5 775.6,600.9 776.1,600.3 776.3,599.1 777.1,600.0 777.5,599.4 778.3,600.1 778.7,599.4 779.4,600.2 780.6,602.6 780.2,598.9 781.0,599.5 781.9,601.0 782.0,599.0 782.4,598.3 782.8,597.9 783.6,598.8 784.0,598.1 784.6,598.1 785.2,598.2 785.9,598.7 786.3,598.2 786.9,598.3 787.5,598.4 788.3,599.1 788.4,597.5 789.1,597.9 789.7,597.9 789.8,596.5 790.5,596.8 791.1,596.9 791.9,597.5 792.2,596.8 792.9,597.1 793.3,596.4 793.7,596.1 794.0,595.0 795.0,596.2 795.2,595.3 795.6,594.7 797.1,597.2 797.0,595.3 797.2,594.2 797.4,593.4 798.5,594.7 798.9,594.1 799.8,594.9 800.1,594.2 800.2,592.9 801.1,593.6 801.8,593.8 801.6,592.1 802.0,591.6 802.6,591.5 803.1,591.4 804.0,591.9 804.3,591.3 804.9,591.4 805.2,590.6 805.7,590.5 806.1,590.1 806.4,589.4 807.0,589.4 807.5,589.2 807.8,588.6 808.7,589.1 808.9,588.2 810.0,589.1 810.2,588.4 810.8,588.4 811.5,588.3 811.3,587.0 811.9,586.9 812.7,587.2 813.0,586.6 813.8,586.8 814.1,586.4 814.9,586.5 815.4,586.3 815.8,585.9 815.8,584.8 816.0,584.2 816.7,584.2 817.0,583.7 817.5,583.4 817.7,582.8 818.1,582.4 819.0,582.7 819.9,583.0 819.9,582.1 820.7,582.3 820.7,581.4 821.0,580.8 821.3,580.3 821.9,580.2 822.2,579.7 823.2,580.1 822.9,578.9 824.0,579.3 824.1,578.6 824.8,578.6 825.0,577.9 825.3,577.5 826.1,577.5 826.7,577.3 826.5,576.4 827.4,576.5 827.4,575.7 828.5,576.0 827.9,574.7 828.7,574.7 828.9,574.1 828.9,573.4 829.4,573.1 830.0,572.9 830.4,572.5 830.6,572.0 831.2,571.7 831.2,571.1 831.7,570.7 831.8,570.2 832.6,570.0 832.1,569.0 832.8,568.8 833.0,568.3 833.4,567.9 834.0,567.6 834.5,567.3 835.0,567.0 834.7,566.1 835.5,566.0 835.2,565.1 835.8,564.9 835.8,564.3 836.0,563.7 836.8,563.5 836.5,562.8 836.7,562.2 837.1,561.8 838.0,561.7 837.9,561.0 838.1,560.5 838.7,560.2 838.7,559.5 838.5,558.9 839.2,558.5 839.4,558.1 839.4,557.5 840.3,557.2 839.8,556.4 840.2,556.0 840.2,555.4 840.7,555.0 840.9,554.5 840.6,553.8 840.8,553.3 840.9,552.7 841.7,552.5 841.8,551.9 842.2,551.5 842.5,551.0 842.4,550.4 842.3,549.7 843.4,549.6 843.6,549.1 843.4,548.4 843.5,547.8 844.2,547.6 843.8,546.8 843.9,546.2 844.7,546.0 844.9,545.4 845.1,544.9 845.2,544.4 845.6,543.9 845.9,543.5 845.5,542.7 845.8,542.2 846.2,541.8 846.4,541.3 846.1,540.6 847.0,540.4 847.1,539.8 847.5,539.4 847.2,538.7 847.7,538.3 847.8,537.7 847.8,537.1 848.1,536.7 848.8,536.3 848.9,535.8 849.1,535.3 849.6,534.9 849.4,534.2 849.9,533.8 849.8,533.2 850.4,532.8 850.3,532.2 850.5,531.7 850.6,531.2 851.2,530.8 851.2,530.2 851.0,529.5 851.1,529.0 851.8,528.6 851.9,528.1 852.3,527.7 852.7,527.2 853.1,526.8 852.8,526.1 853.1,525.6 852.7,524.9 853.2,524.5 853.1,523.9 853.9,523.6 854.3,523.1 854.4,522.6 854.0,521.8 854.1,521.3 854.7,520.9 855.2,520.5 855.9,520.2 855.7,519.5 856.2,519.1 856.2,518.5 856.2,517.9 855.7,517.2 856.2,516.8 856.0,516.1 855.7,515.5 856.4,515.1 856.4,514.5 857.0,514.1 856.8,513.5 856.8,512.9 857.1,512.4 857.8,512.1 857.5,511.4 857.2,510.8 857.6,510.3 857.8,509.8 857.3,509.1 857.8,508.7 858.5,508.3 858.5,507.7 858.5,507.1 858.8,506.6 859.0,506.1 858.8,505.5 859.2,505.1 859.7,504.6 859.2,503.9 859.4,503.4 859.7,502.9 859.4,502.3 859.2,501.6 860.4,501.4 860.2,500.8 860.8,500.3 860.7,499.7 860.5,499.1 860.9,498.7 861.0,498.1 861.1,497.6 861.5,497.1 861.5,496.5 861.0,495.9 861.5,495.4 861.2,494.8 861.6,494.3 861.2,493.6 861.7,493.2 862.3,492.8 861.7,492.1 862.4,491.7 862.4,491.1 862.5,490.6 862.5,490.0 863.0,489.5 862.9,489.0 863.3,488.5 863.4,487.9 863.1,487.3 863.0,486.7 863.3,486.2 863.2,485.6 863.7,485.2 863.9,484.7 863.9,484.1 863.8,483.5 863.9,483.0 864.2,482.5 864.3,481.9 864.5,481.4 864.2,480.8 864.8,480.4 865.3,479.9 864.9,479.2 865.0,478.7 865.3,478.2 864.8,477.5 866.0,477.3 865.6,476.6 866.1,476.1 865.8,475.5 866.3,475.1 866.0,474.4 866.4,474.0 866.6,473.5 866.3,472.8 867.2,472.5 866.5,471.7 867.2,471.3 867.4,470.8 867.7,470.3 867.7,469.8 868.5,469.4 868.7,468.9 868.4,468.2 868.0,467.6 867.9,467.0 868.6,466.6 868.9,466.1 868.2,465.4 869.3,465.0 868.8,464.3 869.5,464.0 868.7,463.2 869.3,462.8 869.4,462.2 869.8,461.8 870.1,461.3 870.3,460.8 871.1,460.4 870.2,459.6 870.5,459.1 869.9,458.4 870.2,457.9 870.8,457.5 871.1,457.0 871.0,456.4 871.4,455.9 870.9,455.3 871.2,454.8 871.4,454.2 870.9,453.5 871.9,453.2 871.7,452.6 871.5,452.0 872.3,451.6 872.7,451.2 872.4,450.5 873.2,450.1 873.0,449.5 872.2,448.8 872.7,448.3 872.8,447.8 873.2,447.3 873.2,446.8 873.5,446.3 873.7,445.7 873.7,445.2 873.4,444.5 873.5,444.0 873.5,443.4 873.9,442.9 873.9,442.4 874.3,441.9 874.4,441.4 874.7,440.9 874.9,440.4 874.6,439.7 874.7,439.2 875.6,438.8 875.4,438.2 875.2,437.6 875.2,437.1 875.8,436.6 875.8,436.1 876.3,435.6 875.7,434.9 876.5,434.5 876.5,434.0 877.4,433.6 877.1,433.0 876.7,432.3 876.8,431.8 876.9,431.2 876.9,430.7 877.0,430.1 877.6,429.7 877.0,429.0 877.1,428.5 877.0,427.9 877.0,427.3 877.7,426.9 877.6,426.3 877.2,425.7 877.7,425.2 877.4,424.6 878.6,424.2 878.2,423.6 877.9,423.0 878.3,422.5 878.4,422.0 878.5,421.5 878.7,420.9 878.7,420.4 878.7,419.8 878.7,419.3 878.6,418.7 878.9,418.2 879.0,417.6 878.9,417.1 879.6,416.6 878.9,416.0 879.3,415.5 879.8,415.0 879.7,414.4 879.4,413.8 878.8,413.2 878.7,412.6 879.4,412.1 879.2,411.6 879.0,411.0 879.8,410.5 880.2,410.0 879.2,409.3 879.7,408.9 880.0,408.3" fill="none" stroke="#000" stroke-width="2.6" stroke-linejoin="round" stroke-linecap="round"/>
<line x1="98.30" y1="771.30" x2="98.30" y2="1049.65" stroke="#000" stroke-width="2.8" stroke-linecap="butt"/>
<line x1="96.90" y1="1048.25" x2="442.00" y2="1048.25" stroke="#000" stroke-width="2.8" stroke-linecap="butt"/>
<line x1="212.47" y1="1048.25" x2="212.47" y2="1041.95" stroke="#000" stroke-width="2.4" stroke-linecap="butt"/>
<line x1="326.63" y1="1048.25" x2="326.63" y2="1041.95" stroke="#000" stroke-width="2.4" stroke-linecap="butt"/>
<line x1="440.80" y1="1048.25" x2="440.80" y2="1041.95" stroke="#000" stroke-width="2.4" stroke-linecap="butt"/>
<line x1="155.38" y1="1048.25" x2="155.38" y2="1044.25" stroke="#000" stroke-width="2.4" stroke-linecap="butt"/>
<line x1="269.55" y1="1048.25" x2="269.55" y2="1044.25" stroke="#000" stroke-width="2.4" stroke-linecap="butt"/>
<line x1="383.72" y1="1048.25" x2="383.72" y2="1044.25" stroke="#000" stroke-width="2.4" stroke-linecap="butt"/>
<line x1="98.30" y1="772.50" x2="104.60" y2="772.50" stroke="#000" stroke-width="2.4" stroke-linecap="butt"/>
<line x1="98.30" y1="841.44" x2="104.60" y2="841.44" stroke="#000" stroke-width="2.4" stroke-linecap="butt"/>
<line x1="98.30" y1="910.38" x2="104.60" y2="910.38" stroke="#000" stroke-width="2.4" stroke-linecap="butt"/>
<line x1="98.30" y1="979.31" x2="104.60" y2="979.31" stroke="#000" stroke-width="2.4" stroke-linecap="butt"/>
<line x1="98.30" y1="806.97" x2="102.30" y2="806.97" stroke="#000" stroke-width="2.4" stroke-linecap="butt"/>
<line x1="98.30" y1="875.91" x2="102.30" y2="875.91" stroke="#000" stroke-width="2.4" stroke-linecap="butt"/>
<line x1="98.30" y1="944.84" x2="102.30" y2="944.84" stroke="#000" stroke-width="2.4" stroke-linecap="butt"/>
<line x1="98.30" y1="1013.78" x2="102.30" y2="1013.78" stroke="#000" stroke-width="2.4" stroke-linecap="butt"/>
<text transform="translate(52.16,780.30) scale(1.0054,1)" font-size="28.00" font-weight="bold" fill="#000">2.0</text>
<text transform="translate(51.87,849.24) scale(0.9910,1)" font-size="28.41" font-weight="bold" fill="#000">1.5</text>
<text transform="translate(52.16,918.17) scale(1.0054,1)" font-size="28.00" font-weight="bold" fill="#000">1.0</text>
<text transform="translate(51.87,987.11) scale(1.0054,1)" font-size="28.00" font-weight="bold" fill="#000">0.5</text>
<text transform="translate(52.16,1056.05) scale(1.0054,1)" font-size="28.00" font-weight="bold" fill="#000">0.0</text>
<text transform="translate(78.04,1076.70) scale(1.0189,1)" font-size="28.00" font-weight="bold" fill="#000">2.0</text>
<text transform="translate(191.07,1076.70) scale(1.0189,1)" font-size="28.00" font-weight="bold" fill="#000">2.5</text>
<text transform="translate(306.22,1076.70) scale(1.0189,1)" font-size="28.00" font-weight="bold" fill="#000">3.0</text>
<text transform="translate(420.74,1076.70) scale(1.0189,1)" font-size="28.00" font-weight="bold" fill="#000">3.5</text>
<text transform="translate(107.95,802.00) scale(1.0436,1)" font-size="27.59" font-weight="bold" fill="#000">(e) Al(1)</text>
<text transform="translate(242.69,1032.00) scale(1.0370,1)" font-size="26.79" font-weight="bold" fill="#000">3.04 eV</text>
<text transform="translate(210.62,1102.00) scale(1.1050,1)" font-size="26.21" font-weight="bold" fill="#000">hv (eV)</text>
<text transform="translate(42.50,974.49) rotate(-90) scale(1.0171,1)" font-size="28.28" font-weight="bold">(ahv)</text>
<text transform="translate(27.30,904.79) rotate(-90) scale(0.9146,1)" font-size="18.07" font-weight="bold">1/2</text>
<line x1="334.50" y1="1057.50" x2="390.75" y2="842.00" stroke="#e41a22" stroke-width="1.0" stroke-linecap="butt"/>
<polyline points="98.6,1012.5 99.2,1013.0 99.6,1011.4 100.1,1010.7 100.8,1011.9 101.2,1010.8 101.8,1011.0 102.3,1011.1 103.0,1012.5 103.6,1012.3 104.1,1012.3 105.0,1015.3 105.2,1012.1 105.8,1012.3 106.1,1009.8 106.7,1010.9 107.3,1010.8 107.8,1010.9 108.4,1010.8 109.0,1011.8 109.6,1011.8 110.0,1010.1 110.5,1010.0 111.1,1010.1 111.7,1010.8 112.2,1010.3 112.7,1010.1 113.4,1011.6 114.0,1011.8 114.6,1012.0 115.1,1011.5 115.6,1011.3 116.1,1010.5 116.7,1011.2 117.2,1010.2 117.9,1012.2 118.4,1011.8 118.9,1010.9 119.4,1010.1 120.1,1011.7 120.5,1010.5 121.2,1011.7 121.6,1009.9 122.2,1010.7 122.6,1009.5 123.2,1010.2 123.9,1010.9 124.3,1010.2 124.9,1010.1 125.4,1009.4 126.0,1010.4 126.5,1009.6 127.0,1009.0 127.5,1008.7 128.1,1009.4 128.6,1008.7 129.2,1008.9 129.8,1009.9 130.5,1011.1 130.8,1008.2 131.5,1010.0 132.1,1009.9 132.6,1009.5 133.0,1008.1 133.5,1007.9 134.0,1007.4 134.6,1007.9 135.1,1007.3 136.0,1010.4 136.3,1007.8 136.8,1007.9 137.5,1008.6 138.1,1010.0 138.4,1007.4 139.1,1008.4 139.7,1008.6 140.2,1008.9 140.8,1008.7 141.3,1008.2 141.9,1008.4 142.4,1008.5 143.0,1008.4 143.6,1009.1 144.1,1008.9 144.5,1007.4 145.1,1007.9 145.7,1008.3 146.3,1008.3 146.8,1008.3 147.3,1008.0 147.7,1006.1 148.5,1009.0 148.9,1006.5 149.5,1007.9 150.1,1007.4 150.6,1007.0 151.2,1008.0 151.6,1006.6 152.2,1006.5 152.7,1006.7 153.3,1007.2 153.9,1007.3 154.5,1007.4 155.1,1007.9 155.5,1006.8 156.0,1006.6 156.6,1006.8 157.3,1008.0 157.7,1006.5 158.2,1006.2 158.9,1007.3 159.5,1007.7 160.0,1007.6 160.6,1007.5 161.0,1006.8 161.6,1006.9 162.0,1005.6 162.7,1006.9 163.3,1006.8 163.8,1007.1 164.2,1005.1 164.9,1007.1 165.4,1005.7 166.0,1006.3 166.8,1009.2 167.1,1006.4 167.6,1005.6 168.2,1006.1 168.6,1005.3 169.3,1006.3 169.9,1006.8 170.4,1006.1 170.8,1005.2 171.4,1005.4 172.0,1005.4 172.5,1005.3 173.1,1005.5 173.7,1006.8 174.2,1005.9 174.7,1005.6 175.3,1005.2 175.8,1004.8 176.5,1006.4 176.9,1005.7 177.5,1006.0 178.0,1004.9 178.5,1004.5 179.2,1005.7 179.6,1004.5 180.2,1005.4 180.4,1000.6 181.3,1005.0 181.8,1004.5 182.4,1004.8 182.8,1003.4 183.5,1004.6 184.1,1005.6 184.6,1004.8 185.1,1004.1 185.6,1003.5 186.2,1004.1 186.6,1002.7 187.3,1003.9 187.8,1003.4 188.4,1003.8 189.0,1004.1 189.6,1005.5 190.1,1004.8 190.6,1003.7 191.1,1002.9 191.6,1002.9 192.3,1004.7 192.9,1005.4 193.4,1004.4 194.0,1005.4 194.5,1004.6 195.0,1004.3 195.5,1003.3 196.0,1002.6 196.6,1002.8 197.2,1003.7 197.6,1002.3 198.2,1002.3 198.8,1003.2 199.3,1002.1 199.8,1001.9 200.4,1002.3 201.0,1002.6 201.6,1003.0 202.1,1003.3 202.7,1003.1 203.2,1002.7 203.8,1003.7 204.3,1003.3 204.8,1002.3 205.4,1002.7 206.0,1003.2 206.4,1001.0 207.1,1002.7 207.6,1002.8 208.1,1001.9 208.7,1002.0 209.2,1002.3 209.8,1002.5 210.3,1002.4 210.9,1002.0 211.4,1002.1 211.9,1001.5 212.6,1002.6 213.1,1002.5 213.6,1001.4 214.2,1002.3 214.6,1000.1 215.2,1001.5 215.8,1002.1 216.3,1001.0 217.0,1002.4 217.4,1001.6 217.9,1001.0 218.6,1001.9 219.1,1001.1 219.7,1001.6 220.2,1001.6 220.8,1002.4 221.4,1002.5 221.8,1001.1 222.3,1000.4 222.9,1001.1 223.5,1001.3 224.2,1002.9 224.5,1000.4 225.1,1001.1 225.7,1001.2 226.3,1001.7 226.4,997.6 227.2,999.6 227.7,999.5 228.4,1000.4 229.0,1000.7 229.4,999.7 230.1,1001.0 230.6,1000.8 231.3,1001.8 231.7,1000.7 232.4,1001.6 232.8,1000.5 233.4,1000.9 233.7,998.3 234.4,999.8 234.8,998.6 235.4,998.9 235.9,998.0 236.6,999.5 237.2,1000.0 237.8,1000.1 238.4,1000.9 238.8,999.3 239.2,998.5 239.9,999.2 240.5,1000.1 240.9,998.9 241.3,997.6 242.1,998.9 242.8,1000.2 243.2,999.1 243.7,998.6 244.2,998.1 244.7,997.8 245.2,997.8 245.8,998.1 246.3,997.8 246.9,997.9 247.6,998.6 248.0,997.7 248.6,997.8 249.3,998.8 249.6,997.7 250.3,998.0 251.0,999.0 251.4,998.2 251.9,997.7 252.4,997.5 253.1,998.3 253.3,996.3 254.0,996.9 254.5,996.6 254.9,996.0 255.6,996.6 255.9,995.2 256.6,996.0 257.3,996.7 257.7,995.8 258.5,996.9 258.9,996.3 259.5,996.4 260.1,996.6 260.5,996.1 260.9,995.3 261.9,997.3 262.1,995.4 262.7,995.8 263.1,994.9 263.4,993.2 264.6,997.1 264.8,994.7 265.3,994.4 266.0,995.7 266.4,994.5 267.1,995.4 267.6,995.2 268.0,994.2 268.6,994.6 269.1,994.2 269.6,993.8 270.2,993.7 270.8,994.1 271.3,993.9 272.0,994.5 272.4,994.0 273.3,995.8 273.6,994.0 274.1,993.7 274.7,993.9 275.2,993.8 275.6,992.9 276.0,991.5 276.9,994.2 277.3,993.2 277.6,991.3 278.4,992.6 279.0,993.6 279.3,991.8 280.2,994.2 280.6,993.1 281.2,992.9 281.8,993.4 282.2,992.6 282.9,993.5 283.4,993.0 284.0,993.0 284.5,993.0 285.3,994.7 285.5,992.3 286.0,992.0 286.5,991.2 287.0,990.9 287.6,991.2 288.1,990.9 288.6,990.8 289.4,992.0 289.8,991.4 290.4,991.6 290.9,991.2 291.5,991.2 291.9,990.5 292.6,991.5 293.1,990.6 293.7,991.1 294.1,989.9 294.5,989.2 295.3,990.6 295.7,989.6 296.1,988.7 296.7,988.9 297.5,990.3 298.3,991.7 298.6,990.1 299.1,990.1 299.6,989.8 300.4,990.8 300.6,988.9 301.4,990.6 301.8,989.5 302.3,989.3 303.0,990.0 303.5,989.6 303.9,988.5 304.2,987.4 305.2,989.8 305.6,988.7 305.9,987.7 306.6,988.2 307.1,987.6 307.9,989.1 308.1,987.1 308.7,987.4 309.1,986.8 310.1,988.8 310.8,989.3 310.7,986.5 311.4,987.1 312.3,988.2 312.5,987.0 312.9,986.2 313.7,987.2 314.2,986.7 314.8,986.9 315.3,986.7 316.0,987.1 316.2,985.6 316.9,986.2 317.3,985.6 317.9,985.7 318.4,985.4 319.0,985.5 319.2,984.3 319.7,984.2 320.7,985.3 320.7,983.7 321.3,983.9 321.7,983.3 322.2,983.1 322.7,983.0 323.1,982.5 323.9,983.0 324.5,982.9 325.1,982.9 325.3,982.0 326.1,982.6 326.3,981.5 327.3,982.4 328.0,982.7 328.0,981.4 328.4,980.9 329.1,981.0 329.2,980.1 330.1,980.6 330.2,979.5 330.7,979.4 331.7,980.1 331.8,979.1 332.6,979.4 332.9,978.8 333.2,978.2 333.9,978.3 334.5,978.4 335.1,978.4 335.2,977.4 335.9,977.5 336.5,977.4 337.1,977.4 337.6,977.0 337.7,976.2 338.3,976.2 338.6,975.7 339.2,975.5 339.5,974.9 340.2,974.9 340.4,974.3 341.0,974.3 341.1,973.4 342.0,973.7 342.2,973.1 342.2,972.2 343.1,972.4 343.0,971.5 343.2,970.9 343.7,970.6 344.1,970.3 344.8,970.2 345.1,969.8 345.7,969.5 346.8,969.8 347.1,969.3 347.2,968.7 347.4,968.2 347.9,967.8 348.4,967.5 348.4,966.8 349.0,966.6 349.5,966.3 349.8,965.8 349.7,965.0 350.0,964.6 350.5,964.3 351.0,964.0 350.8,963.2 351.5,963.0 351.4,962.2 351.0,961.2 352.5,961.7 352.3,960.8 352.8,960.5 353.0,960.0 353.5,959.7 353.6,959.0 354.3,958.8 354.6,958.4 354.9,957.9 355.0,957.4 355.4,957.0 355.6,956.5 355.8,955.9 356.5,955.7 356.3,954.9 355.8,954.0 357.0,954.1 356.9,953.4 357.5,953.1 357.6,952.5 357.7,952.0 358.5,951.8 358.7,951.3 358.3,950.4 359.0,950.2 359.7,949.9 359.8,949.4 360.2,948.9 360.2,948.3 360.5,947.8 361.4,947.7 361.1,946.9 361.8,946.6 361.8,946.0 362.2,945.6 362.3,945.0 362.7,944.6 362.6,944.0 362.7,943.4 363.2,943.0 363.2,942.5 363.3,941.9 363.6,941.4 363.9,940.9 363.8,940.3 363.7,939.7 364.8,939.5 364.1,938.7 364.6,938.2 364.7,937.7 365.0,937.2 365.4,936.8 365.3,936.2 365.2,935.6 366.0,935.3 365.8,934.6 366.1,934.1 365.7,933.4 367.1,933.3 366.6,932.6 367.2,932.2 366.5,931.3 366.8,930.9 367.2,930.4 366.9,929.8 368.0,929.5 368.0,929.0 367.8,928.3 367.9,927.8 368.6,927.4 368.5,926.8 368.8,926.3 368.8,925.8 369.1,925.3 369.6,924.8 369.7,924.3 369.9,923.8 370.0,923.3 370.9,923.0 370.3,922.2 370.6,921.7 370.7,921.2 371.1,920.7 371.4,920.2 370.7,919.4 371.2,919.0 371.9,918.7 371.6,918.0 371.9,917.5 372.4,917.1 373.0,916.7 372.6,916.0 372.6,915.4 373.4,915.1 373.4,914.5 372.9,913.8 373.3,913.3 373.0,912.7 373.1,912.1 373.6,911.7 374.0,911.3 373.8,910.6 374.4,910.2 374.3,909.6 375.1,909.3 374.9,908.6 375.0,908.1 375.1,907.5 374.7,906.9 375.0,906.4 375.4,905.9 375.1,905.3 375.5,904.8 375.9,904.4 374.8,903.5 375.8,903.2 375.8,902.6 376.3,902.2 376.9,901.7 376.4,901.1 376.4,900.5 377.2,900.1 376.8,899.5 376.9,898.9 377.1,898.4 377.2,897.9 378.1,897.5 378.0,896.9 377.8,896.3 378.1,895.8 377.6,895.1 378.0,894.7 377.7,894.0 377.5,893.4 378.4,893.1 378.5,892.5 377.3,891.7 379.0,891.5 378.7,890.9 378.9,890.4 379.1,889.8 378.9,889.2 379.4,888.8 379.5,888.2 379.4,887.7 379.7,887.2 379.7,886.6 379.3,885.9 380.1,885.5 380.4,885.0 380.4,884.5 381.4,884.2 380.3,883.3 380.4,882.8 380.6,882.3 380.7,881.7 380.0,881.0 381.4,880.8 381.7,880.3 382.1,879.8 382.1,879.2 381.6,878.5 381.9,878.1 382.3,877.6 382.3,877.0 381.3,876.2 382.6,876.0 382.4,875.3 382.2,874.8 382.2,874.2 382.8,873.8 383.4,873.3 382.7,872.6 382.5,872.0 382.8,871.5 383.0,871.0 383.1,870.4 383.7,870.0 383.6,869.4 384.2,869.0 383.9,868.4 384.5,867.9 384.2,867.3 384.7,866.8 384.5,866.2 384.5,865.7 384.8,865.2 385.0,864.7 384.7,864.0 385.1,863.6 385.4,863.1 385.6,862.5 385.1,861.9 385.8,861.5 385.4,860.8 385.7,860.3 385.4,859.7 385.9,859.2 385.5,858.6 385.5,858.0 386.1,857.6 385.5,856.9 386.0,856.4 386.6,856.0 386.6,855.4 387.4,855.0 387.6,854.5 387.1,853.9 387.4,853.4 387.8,852.9 387.5,852.3 387.3,851.7 387.5,851.1 387.1,850.5 387.3,850.0 387.8,849.5 387.6,848.9 387.2,848.3 387.9,847.8 387.9,847.3 388.5,846.9 388.7,846.3 389.0,845.8 388.5,845.2 388.1,844.5 389.1,844.2 388.7,843.5 389.5,843.1 388.8,842.4 388.8,841.9 389.1,841.4 389.7,840.9 390.6,840.5 390.3,839.9 390.4,839.4 390.3,838.8 390.2,838.2 390.9,837.8 389.8,837.0 390.2,836.5 389.7,835.9 391.1,835.6 390.9,835.0 391.3,834.5 391.4,834.0 391.3,833.4 390.9,832.8 391.3,832.3 391.5,831.8 391.4,831.2 391.7,830.7 391.4,830.1 391.1,829.4 391.8,829.0 391.9,828.5 391.5,827.8 392.2,827.4 392.3,826.9 392.2,826.3 392.1,825.7 392.9,825.3 392.8,824.7 393.5,824.3 393.2,823.7 393.5,823.2 393.3,822.6 393.4,822.0 393.3,821.5 393.0,820.8 393.4,820.3 393.1,819.7 393.4,819.2 393.3,818.7 393.5,818.1 393.3,817.5 393.9,817.1 394.4,816.6 394.8,816.1 393.9,815.4 394.0,814.9 394.2,814.3 394.8,813.9 394.8,813.3 395.0,812.8 395.1,812.3 395.3,811.7 395.0,811.1 395.4,810.7 395.3,810.1 395.4,809.5 396.0,809.1 396.1,808.6 396.2,808.0 396.0,807.4 395.1,806.7 395.2,806.1 395.7,805.7 395.9,805.1 396.3,804.7 396.2,804.1 396.5,803.6 397.0,803.1 396.9,802.5 396.7,801.9 397.1,801.5 396.8,800.8 397.3,800.4 396.9,799.7 397.1,799.2 397.2,798.7 397.1,798.1 397.8,797.7 397.7,797.1 398.0,796.6 397.9,796.0 398.4,795.6 398.7,795.1 398.2,794.4 398.0,793.8 398.9,793.4 398.8,792.8 399.4,792.4 399.2,791.8 399.4,791.3 398.8,790.6 398.7,790.0 399.2,789.5 399.2,789.0 399.2,788.4 399.1,787.8 399.9,787.4 399.3,786.7 399.7,786.3 399.5,785.7 400.0,785.2 400.1,784.7 400.6,784.2 401.4,783.8 401.4,783.3 401.6,782.8 401.1,782.1 401.7,781.6 401.8,781.1 401.7,780.5 401.7,780.0 401.5,779.3 401.8,778.9 401.8,778.3 402.2,777.8 402.4,777.3 402.9,776.8 402.9,776.3 403.0,775.7 403.6,775.3 402.9,774.6 402.9,774.0 402.4,773.3 403.1,772.9" fill="none" stroke="#000" stroke-width="2.6" stroke-linejoin="round" stroke-linecap="round"/>
<line x1="611.80" y1="779.10" x2="611.80" y2="1051.20" stroke="#000" stroke-width="2.8" stroke-linecap="butt"/>
<line x1="610.40" y1="1049.80" x2="947.70" y2="1049.80" stroke="#000" stroke-width="2.8" stroke-linecap="butt"/>
<line x1="723.37" y1="1049.80" x2="723.37" y2="1043.50" stroke="#000" stroke-width="2.4" stroke-linecap="butt"/>
<line x1="834.93" y1="1049.80" x2="834.93" y2="1043.50" stroke="#000" stroke-width="2.4" stroke-linecap="butt"/>
<line x1="946.50" y1="1049.80" x2="946.50" y2="1043.50" stroke="#000" stroke-width="2.4" stroke-linecap="butt"/>
<line x1="667.58" y1="1049.80" x2="667.58" y2="1045.80" stroke="#000" stroke-width="2.4" stroke-linecap="butt"/>
<line x1="779.15" y1="1049.80" x2="779.15" y2="1045.80" stroke="#000" stroke-width="2.4" stroke-linecap="butt"/>
<line x1="890.72" y1="1049.80" x2="890.72" y2="1045.80" stroke="#000" stroke-width="2.4" stroke-linecap="butt"/>
<line x1="611.80" y1="780.30" x2="618.10" y2="780.30" stroke="#000" stroke-width="2.4" stroke-linecap="butt"/>
<line x1="611.80" y1="847.67" x2="618.10" y2="847.67" stroke="#000" stroke-width="2.4" stroke-linecap="butt"/>
<line x1="611.80" y1="915.05" x2="618.10" y2="915.05" stroke="#000" stroke-width="2.4" stroke-linecap="butt"/>
<line x1="611.80" y1="982.42" x2="618.10" y2="982.42" stroke="#000" stroke-width="2.4" stroke-linecap="butt"/>
<line x1="611.80" y1="813.99" x2="615.80" y2="813.99" stroke="#000" stroke-width="2.4" stroke-linecap="butt"/>
<line x1="611.80" y1="881.36" x2="615.80" y2="881.36" stroke="#000" stroke-width="2.4" stroke-linecap="butt"/>
<line x1="611.80" y1="948.74" x2="615.80" y2="948.74" stroke="#000" stroke-width="2.4" stroke-linecap="butt"/>
<line x1="611.80" y1="1016.11" x2="615.80" y2="1016.11" stroke="#000" stroke-width="2.4" stroke-linecap="butt"/>
<text transform="translate(565.96,788.10) scale(1.0027,1)" font-size="28.00" font-weight="bold" fill="#000">2.0</text>
<text transform="translate(565.68,855.47) scale(0.9884,1)" font-size="28.41" font-weight="bold" fill="#000">1.5</text>
<text transform="translate(565.96,922.85) scale(1.0027,1)" font-size="28.00" font-weight="bold" fill="#000">1.0</text>
<text transform="translate(565.68,990.22) scale(1.0027,1)" font-size="28.00" font-weight="bold" fill="#000">0.5</text>
<text transform="translate(565.96,1057.60) scale(1.0027,1)" font-size="28.00" font-weight="bold" fill="#000">0.0</text>
<text transform="translate(591.04,1077.50) scale(1.0189,1)" font-size="28.00" font-weight="bold" fill="#000">2.0</text>
<text transform="translate(702.67,1077.50) scale(1.0189,1)" font-size="28.00" font-weight="bold" fill="#000">2.5</text>
<text transform="translate(814.82,1077.50) scale(1.0189,1)" font-size="28.00" font-weight="bold" fill="#000">3.0</text>
<text transform="translate(926.44,1077.50) scale(1.0189,1)" font-size="28.00" font-weight="bold" fill="#000">3.5</text>
<text transform="translate(620.22,808.25) scale(1.0987,1)" font-size="25.86" font-weight="bold" fill="#000">(f) Al(3)</text>
<text transform="translate(750.69,1039.00) scale(1.0795,1)" font-size="26.07" font-weight="bold" fill="#000">3.03 eV</text>
<text transform="translate(731.92,1103.75) scale(1.0753,1)" font-size="26.14" font-weight="bold" fill="#000">hv (eV)</text>
<text transform="translate(557.50,968.06) rotate(-90) scale(1.0022,1)" font-size="28.00" font-weight="bold">(ahv)</text>
<text transform="translate(541.80,900.31) rotate(-90) scale(0.9345,1)" font-size="17.93" font-weight="bold">1/2</text>
<line x1="840.00" y1="1050.00" x2="911.25" y2="830.75" stroke="#e41a22" stroke-width="1.0" stroke-linecap="butt"/>
<polyline points="612.1,1022.0 612.6,1020.6 613.2,1020.7 613.6,1019.7 614.3,1021.3 614.8,1020.0 615.3,1020.3 616.0,1021.7 616.5,1021.3 617.0,1020.7 617.6,1021.2 618.1,1020.4 618.7,1021.1 619.2,1020.9 619.6,1018.6 620.2,1018.2 620.9,1021.1 621.5,1021.7 622.0,1020.7 622.6,1021.4 623.1,1020.5 623.7,1021.6 624.1,1019.6 624.7,1020.8 625.3,1020.3 625.7,1019.3 626.4,1020.3 626.9,1019.4 627.4,1019.5 628.0,1020.5 628.6,1020.9 629.1,1020.2 629.6,1019.6 630.2,1019.5 630.8,1020.8 631.3,1020.1 631.9,1020.2 632.4,1019.9 632.9,1019.6 633.3,1017.2 634.1,1020.3 634.7,1021.3 635.1,1019.5 635.8,1020.9 636.3,1020.3 636.8,1020.0 637.5,1021.6 637.9,1020.4 638.4,1019.8 639.0,1019.1 639.6,1020.8 640.2,1021.9 640.7,1020.9 641.3,1021.4 641.8,1020.2 642.2,1017.6 642.9,1019.8 643.5,1021.5 643.9,1019.6 644.5,1020.5 645.0,1018.6 645.6,1020.0 646.1,1019.6 646.7,1019.0 647.2,1018.7 647.8,1019.8 648.3,1019.3 648.9,1019.3 649.4,1019.5 650.0,1018.8 650.5,1019.4 651.2,1020.4 651.6,1019.2 652.1,1017.8 652.7,1018.5 653.3,1018.8 653.8,1018.8 654.3,1018.1 655.0,1019.7 655.5,1019.2 656.1,1019.9 656.6,1018.9 657.1,1018.3 657.9,1021.8 658.2,1018.1 658.8,1019.4 659.3,1019.0 659.9,1019.3 660.5,1019.4 661.0,1019.6 661.6,1019.8 662.0,1018.0 662.6,1018.2 663.1,1017.8 663.6,1016.7 664.3,1018.4 664.8,1018.5 665.3,1016.8 665.9,1018.4 666.3,1016.5 667.0,1018.9 667.5,1017.6 668.1,1018.0 668.7,1018.5 669.2,1017.5 669.7,1017.3 670.3,1018.2 670.9,1018.5 671.4,1017.6 671.9,1017.8 672.5,1017.3 673.0,1017.3 673.7,1019.7 674.2,1018.5 674.7,1017.8 675.3,1019.4 675.8,1018.3 676.3,1017.5 676.9,1018.5 677.3,1016.2 678.0,1018.6 678.5,1017.7 679.1,1018.3 679.7,1018.2 680.1,1017.0 680.7,1017.4 681.3,1017.3 681.8,1017.4 682.3,1016.4 683.0,1017.9 683.5,1017.9 684.0,1016.3 684.7,1019.2 685.1,1017.1 685.6,1016.7 686.2,1017.0 686.8,1017.7 687.3,1016.3 687.9,1016.8 688.4,1017.4 689.1,1018.6 689.5,1016.1 690.0,1015.3 690.6,1016.5 691.1,1016.0 691.7,1016.0 692.3,1017.6 692.8,1016.8 693.4,1016.8 694.0,1018.6 694.4,1015.8 695.0,1016.9 695.5,1016.0 696.2,1017.6 696.6,1016.4 697.1,1015.4 697.8,1016.7 698.3,1016.3 698.9,1017.0 699.4,1016.5 700.0,1017.1 700.5,1016.8 701.0,1016.1 701.6,1015.6 702.2,1016.5 702.7,1016.2 703.2,1015.7 703.8,1016.1 704.4,1016.7 704.8,1014.6 705.4,1015.0 706.0,1015.6 706.5,1015.9 707.1,1015.7 707.7,1016.5 708.2,1016.4 708.8,1016.3 709.2,1014.5 709.9,1016.1 710.3,1014.8 710.9,1014.7 711.5,1015.5 711.9,1013.9 712.6,1015.3 713.1,1015.0 713.6,1013.9 714.2,1014.6 714.7,1013.9 715.1,1012.0 715.8,1014.1 716.4,1015.0 716.9,1014.8 717.4,1013.5 718.0,1014.0 718.5,1013.2 719.2,1015.0 719.6,1013.5 720.3,1015.0 720.8,1014.4 721.3,1014.7 721.8,1013.2 722.3,1013.3 722.5,1008.5 723.5,1013.7 723.9,1012.4 724.5,1012.6 725.1,1013.0 725.7,1014.0 726.3,1014.1 726.8,1014.3 727.3,1013.5 728.0,1014.8 728.5,1014.3 728.9,1012.8 729.5,1013.5 730.2,1014.7 730.6,1012.7 731.1,1012.6 731.7,1013.0 732.0,1010.7 732.8,1012.7 733.3,1013.0 733.9,1013.3 734.4,1012.6 735.0,1013.3 735.7,1014.4 736.1,1012.9 736.7,1013.5 737.3,1013.6 737.7,1011.9 738.3,1012.8 738.8,1012.4 739.5,1014.0 739.8,1011.8 740.7,1014.3 741.0,1012.3 741.6,1012.8 742.1,1012.3 742.6,1011.2 743.2,1012.2 743.9,1013.4 744.2,1011.5 745.0,1013.0 745.2,1010.5 746.1,1013.3 746.5,1012.1 747.1,1012.5 747.7,1012.8 748.1,1011.7 748.6,1011.4 749.4,1013.1 749.7,1010.9 750.3,1011.5 750.8,1011.2 751.6,1012.8 752.0,1011.9 752.5,1011.1 753.0,1010.5 753.6,1010.8 754.2,1011.7 754.8,1011.9 755.1,1010.0 755.8,1010.8 756.4,1011.1 756.8,1010.1 757.4,1010.2 757.7,1008.9 758.3,1009.2 759.1,1010.9 759.5,1009.6 760.1,1009.7 761.2,1013.8 761.3,1010.6 761.7,1009.8 762.3,1009.5 762.9,1010.1 763.6,1010.9 764.1,1010.4 764.4,1009.1 765.3,1011.2 765.9,1011.6 766.1,1009.1 766.8,1010.0 767.1,1008.3 767.5,1007.2 768.2,1008.3 768.8,1008.9 769.5,1009.5 769.9,1008.4 770.5,1008.6 771.0,1008.5 771.6,1008.6 772.1,1008.1 772.8,1009.2 773.1,1007.7 773.8,1008.9 774.2,1007.1 774.9,1008.6 775.5,1009.2 776.0,1008.3 776.4,1007.4 776.9,1007.0 777.4,1006.0 778.0,1006.7 778.7,1008.1 779.3,1008.2 779.8,1008.2 780.5,1009.3 781.0,1008.9 781.5,1008.1 782.0,1007.9 782.2,1005.2 783.0,1006.9 783.6,1006.9 784.2,1007.5 784.6,1006.6 785.1,1005.9 785.8,1007.1 786.3,1006.8 787.0,1007.8 787.2,1005.3 788.0,1006.5 788.4,1005.4 788.9,1005.4 789.6,1006.7 790.3,1007.8 790.8,1007.0 791.3,1006.3 791.8,1006.3 792.5,1007.3 793.1,1007.4 793.6,1007.1 794.3,1008.7 794.5,1005.5 795.2,1006.5 795.6,1005.5 796.5,1008.0 796.7,1005.4 797.4,1006.6 798.0,1007.1 798.7,1007.9 798.9,1005.4 799.6,1006.1 799.9,1004.9 800.5,1005.2 801.0,1004.5 801.6,1004.6 802.3,1005.6 802.7,1004.9 803.0,1003.3 804.0,1006.2 804.2,1003.7 804.8,1004.3 805.4,1004.2 805.7,1002.6 806.3,1003.1 806.7,1002.4 807.5,1003.3 808.1,1003.8 808.6,1003.5 809.2,1003.4 809.7,1003.4 810.5,1004.8 810.8,1003.3 811.0,1001.3 811.9,1003.1 812.6,1003.7 813.1,1003.5 813.7,1003.5 814.4,1004.3 815.1,1004.9 815.3,1003.4 815.8,1003.0 816.3,1002.6 816.6,1001.5 817.3,1001.8 817.7,1001.4 818.4,1001.7 818.6,1000.3 819.4,1001.5 819.8,1000.8 820.2,999.9 820.9,1000.4 821.4,1000.3 822.4,1002.0 822.6,1000.7 823.0,999.8 823.5,999.5 824.1,999.5 824.6,999.5 824.9,998.5 825.9,1000.0 826.8,1001.4 826.6,998.6 827.5,999.7 827.9,999.2 828.6,999.5 829.3,999.9 829.6,999.1 829.7,997.5 830.6,998.5 830.7,997.0 831.0,996.3 832.0,997.6 832.5,997.2 833.1,997.2 833.1,995.7 834.0,996.7 834.5,996.4 834.8,995.7 835.9,996.9 836.4,996.7 836.9,996.4 837.2,995.7 837.4,994.8 838.6,996.0 838.4,994.6 838.8,994.2 839.7,994.6 840.4,994.7 840.6,993.9 841.5,994.4 841.9,994.0 842.2,993.5 842.4,992.8 843.5,993.3 843.3,992.2 843.2,991.1 844.5,991.8 844.8,991.4 845.2,991.0 845.3,990.3 845.9,990.2 846.5,990.0 846.5,989.1 847.2,989.0 847.4,988.5 848.0,988.3 848.6,988.2 849.2,988.1 849.7,987.8 850.7,988.1 849.8,986.2 850.7,986.4 851.5,986.5 851.2,985.3 851.4,984.8 851.9,984.5 853.4,985.2 853.5,984.5 853.7,984.0 853.8,983.3 854.4,983.1 854.6,982.5 855.4,982.5 855.4,981.7 855.8,981.4 856.3,981.1 856.5,980.5 856.7,980.0 857.0,979.5 856.8,978.7 857.0,978.1 857.4,977.7 858.3,977.8 858.6,977.3 858.8,976.8 859.6,976.7 860.0,976.2 860.3,975.8 859.7,974.6 860.2,974.4 860.4,973.8 860.8,973.4 861.0,972.9 861.8,972.8 862.0,972.2 862.6,972.0 862.9,971.6 862.9,970.9 863.5,970.6 863.1,969.7 865.7,970.7 864.5,969.3 863.9,968.2 864.7,968.2 864.8,967.6 865.7,967.5 864.8,966.3 866.9,966.9 865.8,965.6 866.4,965.3 866.6,964.8 867.6,964.7 867.5,964.0 867.6,963.5 867.5,962.8 868.0,962.4 868.3,962.0 868.6,961.5 868.5,960.8 869.1,960.6 870.0,960.4 870.1,959.8 870.9,959.6 871.0,959.0 870.6,958.2 870.2,957.4 872.0,957.7 870.7,956.4 871.8,956.3 872.4,956.0 871.5,955.0 872.9,955.0 872.2,954.1 872.9,953.8 873.2,953.4 872.7,952.6 873.2,952.1 873.7,951.8 873.3,951.0 874.1,950.7 874.4,950.3 874.6,949.8 874.1,949.0 875.9,949.1 876.1,948.6 874.6,947.4 876.0,947.3 875.6,946.6 875.5,946.0 875.4,945.4 875.9,945.0 876.0,944.4 878.0,944.5 876.1,943.3 876.8,943.0 876.4,942.3 877.0,941.9 877.2,941.4 876.7,940.6 876.9,940.1 876.8,939.5 876.1,938.8 877.5,938.6 878.0,938.1 878.4,937.7 879.3,937.4 879.4,936.8 879.3,936.2 878.7,935.5 879.6,935.2 879.4,934.6 879.9,934.1 880.0,933.6 879.9,933.0 879.7,932.4 880.0,931.9 879.7,931.2 879.1,930.5 880.4,930.3 880.3,929.7 879.7,929.0 881.1,928.7 880.5,928.0 880.6,927.5 880.6,926.9 881.3,926.5 881.0,925.9 882.4,925.7 881.9,925.0 881.5,924.3 882.3,923.9 882.1,923.3 882.0,922.7 883.0,922.4 882.2,921.6 883.1,921.3 882.4,920.6 883.4,920.2 883.5,919.7 882.7,918.9 881.9,918.2 880.7,917.3 883.2,917.4 883.5,916.9 883.1,916.2 884.0,915.9 884.1,915.3 884.6,914.9 884.9,914.4 884.2,913.6 884.6,913.2 884.1,912.5 884.7,912.1 885.8,911.8 884.9,911.0 885.7,910.6 885.8,910.1 886.5,909.7 885.6,908.9 886.0,908.4 885.8,907.8 886.5,907.4 886.7,906.9 886.2,906.2 888.0,906.1 887.0,905.3 886.0,904.5 886.8,904.1 886.6,903.5 887.3,903.1 887.4,902.5 886.5,901.8 888.5,901.7 887.9,901.0 886.4,900.1 889.1,900.1 888.0,899.3 888.5,898.8 887.8,898.1 888.5,897.7 888.2,897.1 887.6,896.4 888.2,896.0 888.5,895.5 888.5,894.9 891.2,895.0 890.1,894.1 889.8,893.5 890.4,893.1 889.3,892.2 891.0,892.1 889.5,891.2 890.1,890.7 890.4,890.2 890.2,889.6 890.3,889.1 891.0,888.7 891.5,888.2 891.4,887.7 891.6,887.1 891.1,886.5 891.6,886.0 892.2,885.6 891.2,884.8 892.3,884.5 892.2,883.9 892.9,883.5 892.3,882.8 891.7,882.1 892.6,881.7 890.9,880.7 891.6,880.4 892.2,879.9 892.1,879.3 892.2,878.8 892.8,878.4 892.5,877.7 893.4,877.4 894.0,877.0 893.1,876.2 893.5,875.7 893.1,875.0 892.4,874.3 893.7,874.0 893.9,873.5 893.4,872.8 894.4,872.5 894.5,872.0 893.7,871.2 893.7,870.6 894.5,870.3 895.6,870.0 895.8,869.5 895.7,868.9 895.6,868.3 896.2,867.9 896.8,867.5 895.4,866.5 896.5,866.3 896.8,865.8 897.0,865.3 896.5,864.5 897.6,864.3 897.4,863.7 898.6,863.5 899.8,863.4 898.8,862.4 898.8,861.8 898.3,861.1 898.9,860.7 899.0,860.2 899.7,859.8 899.8,859.3 899.9,858.7 899.5,858.0 900.7,857.9 899.6,856.8 900.2,856.5 900.4,856.0 900.1,855.3 900.8,855.0 901.1,854.5 901.5,854.0 901.4,853.4 900.9,852.6 901.3,852.2 901.9,851.9 901.9,851.3 902.3,850.8 902.6,850.4 903.0,849.9 903.2,849.4 902.8,848.7 903.5,848.3 902.6,847.4 904.1,847.4 904.1,846.8 904.6,846.4 904.9,845.9 904.7,845.3 905.1,844.8 905.0,844.2 905.3,843.7 905.1,843.0 905.2,842.5 905.1,841.9 904.9,841.2 905.2,840.7 906.0,840.5 906.5,840.1 908.2,840.2 907.4,839.2 907.3,838.6 908.4,838.5 907.2,837.4 907.3,836.8 907.7,836.4 907.3,835.6 908.4,835.5 908.5,834.9 908.4,834.3 910.1,834.4 909.0,833.4 910.2,833.3 909.9,832.5 911.3,832.5 911.0,831.8 910.8,831.1 911.0,830.6 911.0,830.0 910.3,827.2 910.6,829.1 909.9,827.5 911.2,826.6 911.4,825.2 911.8,826.1 912.0,825.1 911.3,825.5 912.1,824.7 910.7,821.5 911.6,821.5 911.4,821.0 913.0,820.9 912.6,820.0 913.1,819.8 913.2,818.6 913.1,820.6 914.2,816.9 913.3,817.0 913.7,817.5 914.7,817.5 913.0,817.4 913.5,818.8 914.3,821.8 913.9,819.6 915.1,821.7 915.6,823.2 915.0,823.2 914.7,825.3 915.6,824.4 915.3,826.1 915.4,827.3 916.0,825.8 915.5,828.2 915.7,828.4 916.3,829.6 916.4,828.7 916.7,830.1 917.0,831.0 916.8,831.1 917.1,834.2 917.2,834.4 916.8,835.5 916.4,835.3 917.2,834.8 917.2,835.1 916.1,832.7 918.1,833.0 917.5,832.1 918.1,832.6 918.9,832.3 918.9,827.6 918.7,827.9 919.2,829.7 918.3,828.9 918.8,826.4 918.6,826.1 919.3,826.0 919.5,826.3 920.1,825.8 919.1,824.4 920.3,824.4 919.5,824.3 920.6,822.6 921.3,820.2 922.4,822.4 922.1,821.7 922.8,820.1 922.7,819.8 922.8,818.6 922.1,816.9 924.0,816.9 924.6,816.9 924.1,813.7 924.8,814.1 924.9,815.3 924.9,813.6 925.5,815.1 926.4,814.9 925.6,817.3 925.8,817.0 926.6,816.0 925.9,816.7 927.2,818.1 926.8,817.1 926.9,817.2 926.5,816.8 927.5,815.1 928.4,813.8 928.3,812.2 928.2,812.4 928.7,812.4 927.4,811.6 928.8,809.5 928.6,810.1 928.0,808.4 928.1,808.2 929.3,807.4 928.3,807.6 930.3,808.0 928.5,809.7 928.7,808.5 930.0,809.2 929.4,810.5 929.0,810.1 930.1,810.2 929.8,812.8 931.0,810.3 930.5,814.4 931.3,815.0 930.3,814.4 931.1,814.7 930.3,814.5 932.9,812.1 932.6,810.0 932.7,810.6 931.7,811.5 933.3,811.6 932.9,812.9 933.7,812.9 933.8,815.7 933.4,815.7 933.9,814.7 934.1,815.9 934.7,818.9 935.6,816.4 935.0,816.0 933.4,816.3 935.0,815.1 936.4,814.8 936.0,815.5 936.5,816.0 936.1,813.6 936.8,815.8 936.5,812.0 937.1,811.7 936.9,810.1 937.1,811.3 937.4,811.6 937.7,809.3 937.7,810.2 938.7,808.4 937.9,806.8 937.2,807.1 938.3,807.0 938.8,804.3 939.3,804.8 938.9,804.8 938.6,804.3 939.8,802.9 940.0,802.2 939.8,802.6 940.5,803.6 939.7,802.6 940.7,804.6 939.5,803.8 940.3,804.4 941.1,806.1 940.7,805.8 939.7,809.0 940.4,808.8 940.6,811.3 940.3,810.9 940.3,809.8 939.4,813.7 940.9,812.2 941.3,811.2 940.5,815.6 940.7,815.2 939.6,816.0 941.0,815.6 941.1,816.7 940.1,818.5 941.6,818.2 941.3,820.1 942.6,819.3 940.8,820.0 940.8,821.3 941.0,822.8 941.7,823.5 940.8,822.1 942.0,822.5 940.8,823.1 942.2,822.0 940.7,822.5 941.7,822.1 942.3,820.7 941.5,819.2 941.5,819.0 942.4,817.6 942.6,817.1 942.3,816.1 942.1,816.0 942.4,814.8 941.2,815.2 941.4,814.0 942.0,814.5 942.4,813.7 942.7,811.2 942.3,812.7 942.2,811.5 941.8,809.1 942.4,808.1 941.9,808.1 942.6,806.9 942.5,809.8 943.8,808.7 944.6,811.6 944.2,811.1 943.5,811.0 945.9,811.5 942.8,813.1 943.7,811.3 945.9,810.7 945.3,808.4 944.6,807.4 946.3,806.7 945.5,807.7 945.9,805.4 946.0,806.7 945.9,806.0 944.9,802.9 947.4,803.6 945.7,803.8 947.4,802.5 945.9,799.8 946.4,802.4" fill="none" stroke="#000" stroke-width="2.7" stroke-linejoin="round" stroke-linecap="round"/>
<line x1="98.30" y1="1145.10" x2="98.30" y2="1423.40" stroke="#000" stroke-width="2.8" stroke-linecap="butt"/>
<line x1="96.90" y1="1422.00" x2="442.00" y2="1422.00" stroke="#000" stroke-width="2.8" stroke-linecap="butt"/>
<line x1="212.67" y1="1422.00" x2="212.67" y2="1415.70" stroke="#000" stroke-width="2.4" stroke-linecap="butt"/>
<line x1="326.73" y1="1422.00" x2="326.73" y2="1415.70" stroke="#000" stroke-width="2.4" stroke-linecap="butt"/>
<line x1="440.80" y1="1422.00" x2="440.80" y2="1415.70" stroke="#000" stroke-width="2.4" stroke-linecap="butt"/>
<line x1="155.63" y1="1422.00" x2="155.63" y2="1418.00" stroke="#000" stroke-width="2.4" stroke-linecap="butt"/>
<line x1="269.70" y1="1422.00" x2="269.70" y2="1418.00" stroke="#000" stroke-width="2.4" stroke-linecap="butt"/>
<line x1="383.77" y1="1422.00" x2="383.77" y2="1418.00" stroke="#000" stroke-width="2.4" stroke-linecap="butt"/>
<line x1="98.30" y1="1174.00" x2="104.60" y2="1174.00" stroke="#000" stroke-width="2.4" stroke-linecap="butt"/>
<line x1="98.30" y1="1256.60" x2="104.60" y2="1256.60" stroke="#000" stroke-width="2.4" stroke-linecap="butt"/>
<line x1="98.30" y1="1339.30" x2="104.60" y2="1339.30" stroke="#000" stroke-width="2.4" stroke-linecap="butt"/>
<line x1="98.30" y1="1215.40" x2="102.30" y2="1215.40" stroke="#000" stroke-width="2.4" stroke-linecap="butt"/>
<line x1="98.30" y1="1298.10" x2="102.30" y2="1298.10" stroke="#000" stroke-width="2.4" stroke-linecap="butt"/>
<line x1="98.30" y1="1380.80" x2="102.30" y2="1380.80" stroke="#000" stroke-width="2.4" stroke-linecap="butt"/>
<text transform="translate(52.16,1183.30) scale(1.0054,1)" font-size="28.00" font-weight="bold" fill="#000">0.9</text>
<text transform="translate(52.16,1265.90) scale(1.0054,1)" font-size="28.00" font-weight="bold" fill="#000">0.6</text>
<text transform="translate(52.16,1348.60) scale(1.0054,1)" font-size="28.00" font-weight="bold" fill="#000">0.3</text>
<text transform="translate(52.16,1431.30) scale(1.0054,1)" font-size="28.00" font-weight="bold" fill="#000">0.0</text>
<text transform="translate(78.34,1450.40) scale(1.0189,1)" font-size="28.00" font-weight="bold" fill="#000">2.0</text>
<text transform="translate(191.27,1450.40) scale(1.0189,1)" font-size="28.00" font-weight="bold" fill="#000">2.5</text>
<text transform="translate(306.32,1450.40) scale(1.0189,1)" font-size="28.00" font-weight="bold" fill="#000">3.0</text>
<text transform="translate(420.74,1450.40) scale(1.0189,1)" font-size="28.00" font-weight="bold" fill="#000">3.5</text>
<text transform="translate(107.95,1175.00) scale(1.0859,1)" font-size="26.55" font-weight="bold" fill="#000">(g) Al(5)</text>
<text transform="translate(348.65,1410.75) scale(1.0527,1)" font-size="26.79" font-weight="bold" fill="#000">2.9 eV</text>
<text transform="translate(210.61,1484.50) scale(1.1110,1)" font-size="26.21" font-weight="bold" fill="#000">hv (eV)</text>
<text transform="translate(44.50,1353.69) rotate(-90) scale(1.0002,1)" font-size="28.62" font-weight="bold">(ahv)</text>
<text transform="translate(29.00,1284.01) rotate(-90) scale(0.9204,1)" font-size="18.21" font-weight="bold">1/2</text>
<polyline points="98.5,1376.5 99.1,1376.6 99.7,1376.9 100.2,1376.8 101.2,1379.5 101.3,1376.8 101.9,1376.7 102.5,1377.2 102.9,1375.7 103.6,1376.7 104.2,1377.0 104.5,1375.8 105.2,1376.3 105.8,1376.5 106.1,1374.8 106.7,1375.7 107.1,1374.1 107.7,1374.9 108.3,1375.2 108.9,1375.3 109.3,1374.0 110.0,1375.3 110.6,1375.2 110.8,1373.2 112.0,1377.4 112.3,1376.0 112.9,1375.8 113.4,1375.4 113.8,1374.8 114.4,1374.9 115.2,1376.3 115.4,1373.8 116.2,1375.8 116.6,1375.0 117.2,1375.0 117.8,1375.5 118.4,1375.7 118.8,1374.3 119.2,1373.5 120.0,1375.2 120.4,1374.1 121.0,1374.3 121.6,1374.5 122.0,1373.4 122.6,1373.5 123.2,1374.3 123.6,1373.3 124.3,1374.2 124.7,1373.1 125.5,1374.8 125.8,1373.2 126.4,1373.3 126.9,1372.7 127.5,1372.9 128.0,1372.6 128.3,1370.9 129.0,1371.9 129.5,1371.6 130.1,1372.0 130.9,1373.6 131.3,1372.7 132.0,1373.6 132.4,1372.6 132.8,1371.4 133.5,1372.5 133.9,1371.0 134.6,1372.1 135.2,1372.5 135.6,1371.8 136.2,1371.5 136.8,1372.3 137.3,1372.0 137.9,1372.0 138.4,1372.0 138.7,1370.2 139.4,1370.7 139.9,1370.5 140.4,1370.1 140.9,1369.5 141.4,1369.0 141.7,1367.3 142.5,1369.4 143.1,1369.9 143.5,1368.6 144.3,1370.0 144.7,1369.3 145.6,1371.5 145.9,1370.0 146.7,1371.2 147.1,1370.1 147.5,1369.5 148.2,1370.4 148.6,1368.9 149.1,1369.0 149.8,1369.7 150.3,1369.6 151.1,1371.1 151.4,1369.6 152.0,1369.6 152.5,1368.9 153.0,1369.0 154.0,1371.8 154.2,1369.5 154.7,1369.2 155.3,1369.2 155.9,1369.7 156.3,1368.8 156.8,1368.0 157.3,1367.7 157.9,1367.9 158.4,1367.7 159.1,1368.5 159.6,1368.4 160.1,1367.9 160.7,1368.4 161.2,1367.8 161.7,1367.5 162.4,1369.0 162.9,1368.1 163.5,1368.6 164.2,1369.3 164.8,1369.8 165.3,1369.3 165.7,1368.2 166.2,1367.8 166.9,1368.8 167.3,1367.9 168.3,1371.5 168.6,1369.1 168.9,1367.7 169.5,1367.8 170.0,1367.7 170.6,1367.5 171.0,1366.8 172.0,1370.1 172.3,1368.1 172.9,1368.3 173.3,1367.3 173.8,1366.9 174.5,1367.8 175.1,1367.9 175.4,1366.2 175.7,1364.4 176.4,1365.3 176.9,1365.2 177.4,1364.6 178.0,1365.3 178.8,1366.5 179.1,1364.6 179.9,1366.5 180.3,1365.4 181.0,1366.4 181.7,1367.9 181.8,1364.6 182.3,1363.5 183.2,1366.7 183.6,1365.2 184.0,1364.0 184.7,1365.0 185.3,1365.4 185.9,1365.8 186.4,1365.8 187.1,1366.6 187.4,1364.4 188.1,1365.7 188.4,1364.0 189.0,1363.9 189.6,1364.5 190.3,1365.7 190.7,1364.4 191.2,1364.0 191.7,1363.3 192.1,1362.4 192.7,1362.5 193.4,1363.5 194.0,1363.9 194.9,1367.3 194.6,1360.4 195.5,1363.1 196.3,1364.9 196.5,1362.3 197.2,1363.5 197.7,1363.1 198.3,1363.6 198.9,1363.8 199.3,1362.3 200.0,1363.7 200.7,1364.5 201.0,1362.4 201.4,1361.6 202.1,1362.9 202.6,1362.2 203.3,1363.4 203.8,1362.9 204.4,1363.1 205.0,1363.7 205.5,1363.2 206.2,1364.2 206.5,1362.1 207.2,1363.9 207.6,1362.6 208.2,1362.7 208.6,1361.1 209.5,1364.2 209.5,1360.0 210.1,1359.8 210.8,1360.9 211.2,1360.1 212.0,1362.3 212.8,1364.0 213.2,1362.8 213.7,1361.9 214.4,1363.2 214.8,1362.4 215.5,1363.1 215.7,1360.6 216.3,1360.7 216.8,1360.5 217.2,1358.8 217.9,1360.7 218.4,1359.9 219.1,1360.9 219.6,1361.0 220.1,1360.5 220.8,1361.7 221.1,1359.6 221.9,1360.9 222.3,1360.2 222.9,1360.5 223.5,1360.8 224.0,1360.6 224.5,1359.7 225.1,1360.2 225.3,1357.5 226.3,1360.7 226.8,1360.3 227.3,1360.3 228.1,1362.3 228.4,1360.3 228.8,1358.8 229.4,1359.5 230.0,1359.6 230.6,1359.7 231.1,1359.5 231.3,1357.1 231.9,1357.3 232.7,1358.7 233.1,1357.8 233.7,1358.0 234.2,1358.1 234.8,1358.3 235.4,1358.4 236.1,1359.4 236.6,1359.3 237.2,1359.3 237.9,1360.6 238.2,1358.8 238.8,1359.3 239.5,1359.9 239.9,1359.1 240.5,1359.3 241.0,1358.5 241.6,1359.6 242.2,1359.3 242.8,1359.5 243.2,1359.0 243.7,1358.3 244.2,1358.0 244.8,1358.3 245.4,1358.3 245.8,1357.2 246.3,1357.0 247.2,1360.0 247.5,1357.6 248.1,1358.4 248.6,1357.6 249.1,1357.4 249.6,1356.5 250.1,1356.1 250.8,1357.3 251.0,1354.7 251.9,1357.1 252.3,1356.2 252.9,1356.9 253.5,1356.8 253.9,1356.0 254.9,1359.2 254.8,1354.1 255.7,1356.7 255.9,1354.2 256.8,1356.7 257.4,1356.8 257.8,1356.2 258.2,1354.5 258.8,1355.4 259.2,1354.3 259.8,1354.0 260.2,1353.5 261.0,1354.9 261.4,1354.2 262.0,1354.4 262.9,1356.4 263.4,1356.3 263.6,1353.8 264.0,1352.7 265.0,1355.8 265.4,1354.9 265.6,1352.3 266.5,1354.7 267.1,1354.8 268.2,1357.9 268.3,1355.4 268.7,1354.2 269.1,1353.6 270.0,1355.3 270.2,1353.1 270.8,1353.8 270.9,1351.2 271.6,1351.9 272.2,1352.0 272.9,1352.8 273.3,1352.0 273.9,1352.4 274.5,1352.3 275.3,1353.8 275.7,1352.9 276.1,1352.2 276.9,1353.2 277.6,1354.2 278.1,1353.6 278.8,1354.5 279.4,1354.5 279.8,1353.8 280.2,1352.9 280.1,1349.6 281.4,1353.4 281.9,1352.8 282.4,1352.8 282.7,1351.3 283.2,1351.3 283.5,1350.1 284.5,1351.8 284.1,1347.3 285.0,1349.0 285.5,1348.9 286.4,1350.5 286.4,1348.0 287.8,1351.8 287.9,1349.3 288.8,1351.0 289.4,1351.1 289.8,1350.6 290.3,1350.1 290.6,1349.2 291.4,1349.9 291.5,1347.8 292.1,1348.1 292.9,1349.3 293.2,1348.1 293.7,1347.9 294.4,1348.2 295.1,1348.9 295.4,1347.8 296.3,1349.2 297.0,1349.6 297.6,1349.8 297.9,1349.0 298.4,1348.6 299.1,1349.1 299.7,1349.4 300.1,1348.4 300.8,1348.9 301.0,1347.8 301.9,1348.8 302.0,1347.2 302.2,1345.5 303.5,1348.6 303.9,1348.0 304.6,1348.5 305.1,1347.9 304.9,1345.1 305.6,1345.6 306.6,1347.3 307.0,1346.5 308.0,1348.3 308.3,1347.4 308.6,1346.1 309.0,1345.5 309.8,1346.4 310.1,1345.5 310.7,1345.6 311.3,1345.5 311.8,1345.5 312.4,1345.3 313.4,1346.8 313.5,1345.3 314.2,1345.7 314.3,1344.0 315.0,1344.5 315.9,1345.6 316.1,1344.3 316.6,1344.0 316.6,1342.3 316.8,1341.0 318.4,1344.0 318.7,1343.3 318.4,1340.9 319.4,1342.0 319.7,1341.1 320.8,1342.6 321.8,1343.6 321.6,1341.5 323.1,1343.8 322.9,1341.8 324.2,1343.7 324.2,1342.2 324.3,1341.0 324.9,1340.9 325.5,1340.9 326.5,1341.8 326.1,1339.5 326.8,1339.8 326.8,1338.4 326.8,1336.9 328.3,1339.0 328.0,1337.0 328.2,1336.0 328.3,1335.0 330.1,1337.6 329.9,1335.7 330.7,1336.2 331.8,1337.4 332.8,1338.3 332.7,1336.8 334.0,1338.4 332.8,1334.2 333.9,1335.5 334.2,1334.7 334.4,1333.9 334.4,1332.5 335.4,1333.5 335.7,1332.8 336.5,1333.3 337.0,1333.0 338.2,1334.2 337.2,1331.1 339.0,1333.3 340.1,1334.3 340.6,1334.0 341.6,1334.6 340.1,1330.9 342.1,1333.3 341.4,1330.9 341.4,1329.9 340.7,1327.8 342.8,1330.1 344.1,1331.2 345.4,1332.2 345.6,1331.4 346.4,1331.6 347.2,1331.8 346.9,1330.4 346.8,1329.2 348.6,1330.8 348.2,1329.2 349.3,1329.8 348.5,1327.9 348.8,1327.3 348.5,1326.1 349.7,1326.7 350.3,1326.6 350.2,1325.6 350.0,1324.5 351.0,1324.8 351.8,1324.9 352.4,1324.8 353.9,1325.5 353.5,1324.3 353.7,1323.7 354.0,1323.3 352.8,1321.3 355.1,1322.8 354.6,1321.5 354.8,1320.9 355.2,1320.6 355.2,1319.9 357.3,1320.9 356.5,1319.5 358.0,1320.1 357.9,1319.3 358.7,1319.2 357.9,1317.9 358.1,1317.3 358.1,1316.7 359.0,1316.7 358.7,1315.8 358.5,1314.9 360.8,1315.8 360.8,1315.2 361.6,1315.0 360.1,1313.4 363.5,1314.8 361.2,1312.9 362.4,1312.9 362.5,1312.3 361.5,1311.2 361.5,1310.5 363.0,1310.7 363.0,1310.1 362.6,1309.2 363.8,1309.2 363.1,1308.3 365.1,1308.7 365.3,1308.2 364.8,1307.3 366.3,1307.4 366.1,1306.7 365.6,1305.8 367.5,1306.2 367.1,1305.4 367.0,1304.7 367.7,1304.4 367.1,1303.5 367.9,1303.3 367.0,1302.3 367.3,1301.8 367.9,1301.5 367.0,1300.4 369.1,1300.8 367.1,1299.2 366.8,1298.5 369.2,1299.0 369.1,1298.4 368.4,1297.4 368.8,1297.0 369.9,1296.9 369.6,1296.2 370.2,1295.9 370.9,1295.6 369.4,1294.3 371.8,1294.8 369.7,1293.2 370.9,1293.1 370.9,1292.6 372.2,1292.5 371.5,1291.6 371.6,1291.0 373.3,1291.2 372.7,1290.3 374.2,1290.4 373.2,1289.4 373.0,1288.7 371.8,1287.5 373.0,1287.5 374.3,1287.4 373.9,1286.7 375.2,1286.6 377.0,1286.8 377.0,1286.2 377.0,1285.6 375.3,1284.3 375.6,1283.8 376.1,1283.4 374.9,1282.3 375.5,1282.0 375.3,1281.3 375.1,1280.6 376.9,1280.8 377.5,1280.4 377.8,1280.0 377.1,1279.1 377.6,1278.7 378.8,1278.6 379.0,1278.1 377.9,1277.0 378.9,1276.8 379.1,1276.3 380.7,1276.5 380.7,1275.8 380.0,1274.9 380.1,1274.4 380.2,1273.8 380.4,1273.3 381.5,1273.2 382.2,1272.9 379.3,1271.0 381.6,1271.5 382.4,1271.2 383.0,1270.9 382.9,1270.2 382.9,1269.6 381.4,1268.3 382.6,1268.3 381.4,1267.1 384.2,1267.8 382.4,1266.3 384.5,1266.7 383.8,1265.8 384.5,1265.5 385.4,1265.3 384.9,1264.5 384.7,1263.8 385.6,1263.6 386.1,1263.2 385.0,1262.1 385.1,1261.5 386.1,1261.4 386.5,1261.0 385.4,1259.8 387.0,1260.0 388.9,1260.3 387.9,1259.2 386.2,1257.8 387.4,1257.8 388.0,1257.4 388.7,1257.1 388.0,1256.2 390.1,1256.6 388.9,1255.4 388.5,1254.6 390.0,1254.7 389.9,1254.1 389.6,1253.3 391.1,1253.4 391.1,1252.8 390.1,1251.7 390.9,1251.5 391.3,1251.1 391.7,1250.6 390.3,1249.4 391.4,1249.3 392.7,1249.3 392.6,1248.6 392.6,1248.1 393.0,1247.6 394.5,1247.7 393.1,1246.4 393.1,1245.8 393.6,1245.5 393.5,1244.8 393.4,1244.2 394.3,1244.0 393.2,1242.9 395.1,1243.1 393.7,1241.9 393.6,1241.2 394.1,1240.8 394.8,1240.6 394.5,1239.8 392.6,1238.3 397.4,1240.0 395.5,1238.5 397.3,1238.7 396.6,1237.8 394.4,1236.1 396.3,1236.4 398.1,1236.7 398.0,1236.0 398.7,1235.7 397.8,1234.7 399.6,1234.9 398.4,1233.7 399.3,1233.6 398.8,1232.7 399.5,1232.5 400.7,1231.5 399.5,1231.5 399.6,1230.3 400.4,1231.1 401.3,1230.8 402.1,1230.0 400.0,1228.3 400.1,1227.6 400.7,1226.4 402.2,1226.0 400.3,1225.0 402.1,1224.5 401.1,1223.1 402.4,1223.9 401.5,1220.1 402.3,1221.5 401.8,1219.6 402.9,1221.2 403.1,1218.5 403.9,1219.9 404.1,1218.0 403.4,1217.8 403.0,1214.6 403.5,1216.1 404.3,1215.3 402.5,1213.4 403.1,1213.8 404.5,1211.5 403.4,1213.1 404.2,1211.9 404.2,1209.8 405.5,1211.6 405.3,1213.8 404.6,1213.0 403.7,1214.1 404.6,1213.7 406.1,1215.2 406.5,1215.7 405.5,1217.0 405.1,1217.4 405.1,1217.5 405.7,1216.4 405.2,1220.5 405.9,1219.5 406.2,1219.8 405.6,1220.9 405.8,1220.2 406.7,1222.5 406.8,1223.4 407.4,1223.0 406.4,1224.0 406.7,1226.6 408.2,1225.5 406.8,1226.1 408.3,1226.8 407.1,1228.1 408.0,1227.2 408.2,1226.5 408.2,1224.9 408.3,1224.3 408.2,1226.3 408.3,1224.7 408.0,1222.3 409.1,1221.4 409.7,1220.8 409.5,1221.4 409.7,1219.5 409.9,1219.9 409.2,1220.0 409.9,1217.9 409.1,1218.5 410.0,1218.1 411.2,1218.6 410.7,1214.3 410.8,1216.0 412.5,1212.8 412.3,1216.3 411.7,1212.3 411.8,1211.7 411.2,1211.9 411.6,1211.7 412.6,1209.4 413.1,1210.2 413.3,1210.0 412.6,1206.8 413.1,1209.6 412.7,1211.2 412.8,1210.9 414.1,1212.1 413.2,1212.3 414.0,1212.4 413.5,1213.8 414.1,1214.9 414.3,1214.4 413.8,1215.4 414.6,1214.6 414.5,1219.5 413.4,1218.0 414.3,1219.4 415.3,1219.7 415.5,1220.2 414.9,1220.4 415.6,1223.3 414.6,1221.5 415.7,1225.0 415.5,1223.9 414.9,1224.5 415.5,1224.5 416.1,1224.7 416.5,1226.1 416.2,1226.9 415.5,1228.7 415.1,1228.4 417.3,1227.7 415.6,1227.8 416.5,1229.8 416.5,1231.6 417.9,1232.8 416.5,1232.3 417.3,1232.2 417.1,1233.9 417.8,1233.7 417.4,1230.8 417.1,1230.2 417.7,1229.2 416.4,1228.7 417.5,1227.0 417.9,1228.0 417.9,1226.8 417.6,1224.7 416.8,1225.9 417.1,1224.9 417.3,1224.6 417.3,1224.0 418.3,1220.5 418.4,1221.2 418.9,1220.3 418.7,1222.1 418.8,1220.5 417.5,1220.3 418.5,1216.0 418.8,1217.3 418.6,1217.1 418.9,1216.2 418.5,1216.2 418.1,1215.7 418.5,1213.7 417.4,1214.3 418.3,1213.2 418.3,1212.6 419.5,1211.8 418.5,1212.6 418.8,1210.7 418.3,1209.8 419.4,1209.8 418.3,1206.9 419.8,1206.9 419.3,1206.4 419.2,1203.4 418.8,1205.7 419.3,1205.5 418.9,1204.7 420.0,1205.0 419.8,1202.6 419.1,1201.2 419.1,1202.5 419.2,1203.8 421.0,1203.5 420.8,1204.6 420.8,1205.4 422.1,1207.3 421.5,1206.1 422.7,1208.0 423.2,1205.6 422.9,1206.3 423.6,1209.1 423.4,1207.9 424.5,1210.5 425.6,1210.4 424.0,1210.6 426.2,1210.8 425.7,1212.7 425.4,1210.8 427.2,1213.9 427.0,1213.5 427.1,1214.0 426.1,1214.2 428.9,1216.4 427.1,1214.4 427.5,1216.5 428.7,1213.9 428.4,1213.9 429.5,1210.7 429.2,1210.0 428.0,1210.3 429.3,1211.1 429.4,1208.9 430.7,1209.6 430.1,1209.2 430.7,1208.7 430.4,1208.1 428.9,1205.8 431.9,1206.3 430.6,1204.6 431.3,1203.5 430.6,1204.2 430.7,1203.7 431.8,1203.0 431.6,1203.1 431.0,1200.5 432.3,1201.0 432.9,1199.2 432.6,1200.0 432.5,1197.7 431.8,1199.5 433.9,1198.9 432.9,1198.1 433.1,1199.9 433.5,1200.7 433.0,1202.3 434.0,1200.9 434.0,1201.8 434.1,1203.5 433.1,1205.1 433.6,1205.5 433.6,1204.9 434.5,1205.3 434.3,1207.1 434.3,1208.6 434.4,1209.9 434.3,1210.2 432.6,1212.0 434.2,1210.7 436.0,1211.0 435.7,1212.5 433.6,1211.1 434.1,1212.4 434.8,1213.8 435.1,1215.1 435.3,1215.5 435.3,1216.2 434.8,1217.3 436.5,1218.4 436.3,1217.2 436.0,1219.6 435.9,1219.1 434.2,1220.1 436.2,1220.3 435.4,1223.2 435.6,1221.5 434.9,1223.4 435.9,1223.3 435.3,1221.3 436.4,1220.3 434.9,1220.4 436.6,1219.6 436.5,1219.9 436.9,1217.9 436.7,1217.1 436.9,1216.4 436.3,1216.6 436.9,1214.7 436.7,1214.6 435.9,1213.4 436.3,1214.3 435.7,1212.2 436.3,1213.0 435.2,1210.6 436.4,1208.2 436.4,1210.3 437.5,1209.4 436.9,1207.6 437.5,1207.0 438.3,1204.9 438.0,1206.0 437.1,1204.3 437.6,1203.7 438.4,1204.6 437.7,1203.2 436.7,1204.6 439.0,1203.6 438.3,1202.7 439.5,1201.9 438.5,1199.2 438.5,1200.1 438.2,1198.4 439.1,1197.9 439.2,1194.3 439.0,1197.2 438.4,1195.6 439.2,1195.7 440.2,1196.5 439.5,1196.3" fill="none" stroke="#000" stroke-width="3.1" stroke-linejoin="round" stroke-linecap="round"/>
<line x1="308.25" y1="1427.50" x2="400.75" y2="1230.75" stroke="#e41a22" stroke-width="1.0" stroke-linecap="butt"/>
<line x1="610.30" y1="1153.95" x2="610.30" y2="1432.60" stroke="#000" stroke-width="2.2" stroke-linecap="butt"/>
<line x1="609.20" y1="1431.50" x2="953.70" y2="1431.50" stroke="#000" stroke-width="2.2" stroke-linecap="butt"/>
<line x1="634.20" y1="1431.50" x2="634.20" y2="1425.40" stroke="#000" stroke-width="2.0" stroke-linecap="butt"/>
<line x1="683.10" y1="1431.50" x2="683.10" y2="1425.40" stroke="#000" stroke-width="2.0" stroke-linecap="butt"/>
<line x1="732.00" y1="1431.50" x2="732.00" y2="1425.40" stroke="#000" stroke-width="2.0" stroke-linecap="butt"/>
<line x1="780.90" y1="1431.50" x2="780.90" y2="1425.40" stroke="#000" stroke-width="2.0" stroke-linecap="butt"/>
<line x1="829.80" y1="1431.50" x2="829.80" y2="1425.40" stroke="#000" stroke-width="2.0" stroke-linecap="butt"/>
<line x1="878.70" y1="1431.50" x2="878.70" y2="1425.40" stroke="#000" stroke-width="2.0" stroke-linecap="butt"/>
<line x1="927.60" y1="1431.50" x2="927.60" y2="1425.40" stroke="#000" stroke-width="2.0" stroke-linecap="butt"/>
<line x1="658.65" y1="1431.50" x2="658.65" y2="1427.60" stroke="#000" stroke-width="2.0" stroke-linecap="butt"/>
<line x1="707.55" y1="1431.50" x2="707.55" y2="1427.60" stroke="#000" stroke-width="2.0" stroke-linecap="butt"/>
<line x1="756.45" y1="1431.50" x2="756.45" y2="1427.60" stroke="#000" stroke-width="2.0" stroke-linecap="butt"/>
<line x1="805.35" y1="1431.50" x2="805.35" y2="1427.60" stroke="#000" stroke-width="2.0" stroke-linecap="butt"/>
<line x1="854.25" y1="1431.50" x2="854.25" y2="1427.60" stroke="#000" stroke-width="2.0" stroke-linecap="butt"/>
<line x1="903.15" y1="1431.50" x2="903.15" y2="1427.60" stroke="#000" stroke-width="2.0" stroke-linecap="butt"/>
<line x1="952.05" y1="1431.50" x2="952.05" y2="1427.60" stroke="#000" stroke-width="2.0" stroke-linecap="butt"/>
<line x1="610.30" y1="1155.05" x2="616.40" y2="1155.05" stroke="#000" stroke-width="2.0" stroke-linecap="butt"/>
<line x1="610.30" y1="1205.40" x2="616.40" y2="1205.40" stroke="#000" stroke-width="2.0" stroke-linecap="butt"/>
<line x1="610.30" y1="1255.75" x2="616.40" y2="1255.75" stroke="#000" stroke-width="2.0" stroke-linecap="butt"/>
<line x1="610.30" y1="1306.10" x2="616.40" y2="1306.10" stroke="#000" stroke-width="2.0" stroke-linecap="butt"/>
<line x1="610.30" y1="1356.45" x2="616.40" y2="1356.45" stroke="#000" stroke-width="2.0" stroke-linecap="butt"/>
<line x1="610.30" y1="1406.80" x2="616.40" y2="1406.80" stroke="#000" stroke-width="2.0" stroke-linecap="butt"/>
<line x1="610.30" y1="1180.23" x2="614.20" y2="1180.23" stroke="#000" stroke-width="2.0" stroke-linecap="butt"/>
<line x1="610.30" y1="1230.58" x2="614.20" y2="1230.58" stroke="#000" stroke-width="2.0" stroke-linecap="butt"/>
<line x1="610.30" y1="1280.93" x2="614.20" y2="1280.93" stroke="#000" stroke-width="2.0" stroke-linecap="butt"/>
<line x1="610.30" y1="1331.28" x2="614.20" y2="1331.28" stroke="#000" stroke-width="2.0" stroke-linecap="butt"/>
<line x1="610.30" y1="1381.62" x2="614.20" y2="1381.62" stroke="#000" stroke-width="2.0" stroke-linecap="butt"/>
<text transform="translate(547.84,1163.85) scale(1.0179,1)" font-size="27.71" font-weight="bold" fill="#000">3.15</text>
<text transform="translate(548.12,1214.20) scale(1.0179,1)" font-size="27.71" font-weight="bold" fill="#000">3.10</text>
<text transform="translate(547.84,1264.55) scale(1.0179,1)" font-size="27.71" font-weight="bold" fill="#000">3.05</text>
<text transform="translate(548.12,1314.90) scale(1.0179,1)" font-size="27.71" font-weight="bold" fill="#000">3.00</text>
<text transform="translate(547.84,1365.25) scale(1.0179,1)" font-size="27.71" font-weight="bold" fill="#000">2.95</text>
<text transform="translate(548.12,1415.60) scale(1.0179,1)" font-size="27.71" font-weight="bold" fill="#000">2.90</text>
<text transform="translate(627.32,1461.90) scale(0.7147,1)" font-size="27.54" font-weight="bold" fill="#000">1</text>
<text transform="translate(674.38,1461.90) scale(1.0714,1)" font-size="27.14" font-weight="bold" fill="#000">2</text>
<text transform="translate(725.80,1461.90) scale(0.8289,1)" font-size="27.14" font-weight="bold" fill="#000">3</text>
<text transform="translate(773.38,1461.90) scale(0.8911,1)" font-size="27.54" font-weight="bold" fill="#000">4</text>
<text transform="translate(823.04,1461.90) scale(0.8534,1)" font-size="27.54" font-weight="bold" fill="#000">5</text>
<text transform="translate(872.40,1461.90) scale(0.8926,1)" font-size="27.14" font-weight="bold" fill="#000">6</text>
<text transform="translate(921.55,1461.90) scale(0.8601,1)" font-size="27.54" font-weight="bold" fill="#000">7</text>
<text transform="translate(620.17,1184.50) scale(1.0981,1)" font-size="26.90" font-weight="bold" fill="#000">(h)</text>
<text transform="translate(719.53,1497.50) scale(1.0409,1)" font-size="27.59" font-weight="bold" fill="#000">Sample</text>
<text transform="translate(535.25,1400.13) rotate(-90) scale(1.0211,1)" font-size="28.28" font-weight="bold">Band gap (eV)</text>
<polyline points="638.6,1200.3 639.0,1200.7 639.3,1201.1 639.6,1201.4 639.9,1201.8 640.3,1202.1 640.6,1202.5 640.9,1202.9 641.3,1203.2 641.6,1203.6 641.9,1203.9 642.2,1204.3 642.6,1204.6 642.9,1205.0 643.2,1205.3 643.5,1205.7 643.9,1206.1 644.2,1206.4 644.5,1206.8 644.8,1207.1 645.2,1207.5 645.5,1207.8 645.8,1208.2 646.1,1208.5 646.5,1208.8 646.8,1209.2 647.1,1209.5 647.5,1209.9 647.8,1210.2 648.1,1210.6 648.4,1210.9 648.8,1211.2 649.1,1211.6 649.4,1211.9 649.7,1212.3 650.1,1212.6 650.4,1212.9 650.7,1213.3 651.0,1213.6 651.4,1213.9 651.7,1214.2 652.0,1214.6 652.3,1214.9 652.7,1215.2 653.0,1215.5 653.3,1215.9 653.7,1216.2 654.0,1216.5 654.3,1216.8 654.6,1217.1 655.0,1217.4 655.3,1217.8 655.6,1218.1 655.9,1218.4 656.3,1218.7 656.6,1219.0 656.9,1219.3 657.2,1219.6 657.6,1219.9 657.9,1220.2 658.2,1220.5 658.6,1220.8 658.9,1221.1 659.2,1221.4 659.5,1221.7 659.9,1221.9 660.2,1222.2 660.5,1222.5 660.8,1222.8 661.2,1223.1 661.5,1223.4 661.8,1223.6 662.1,1223.9 662.5,1224.2 662.8,1224.4 663.1,1224.7 663.4,1225.0 663.8,1225.2 664.1,1225.5 664.4,1225.8 664.8,1226.0 665.1,1226.3 665.4,1226.5 665.7,1226.8 666.1,1227.0 666.4,1227.3 666.7,1227.5 667.0,1227.7 667.4,1228.0 667.7,1228.2 668.0,1228.4 668.3,1228.7 668.7,1228.9 669.0,1229.1 669.3,1229.3 669.6,1229.5 670.0,1229.8 670.3,1230.0 670.6,1230.2 671.0,1230.4 671.3,1230.6 671.6,1230.8 671.9,1231.0 672.3,1231.2 672.6,1231.4 672.9,1231.6 673.2,1231.8 673.6,1231.9 673.9,1232.1 674.2,1232.3 674.5,1232.5 674.9,1232.6 675.2,1232.8 675.5,1233.0 675.8,1233.1 676.2,1233.3 676.5,1233.5 676.8,1233.6 677.2,1233.8" fill="none" stroke="#000" stroke-width="1.35" stroke-linejoin="round" stroke-linecap="round"/>
<polyline points="689.6,1236.8 689.9,1236.9 690.2,1236.9 690.5,1236.9 690.9,1236.9 691.2,1236.9 691.5,1236.9 691.8,1236.9 692.2,1237.0 692.5,1237.0 692.8,1237.0 693.1,1237.0 693.5,1237.0 693.8,1237.0 694.1,1236.9 694.5,1236.9 694.8,1236.9 695.1,1236.9 695.4,1236.9 695.8,1236.9 696.1,1236.9 696.4,1236.9 696.7,1236.9 697.1,1236.9 697.4,1236.8 697.7,1236.8 698.0,1236.8 698.4,1236.8 698.7,1236.8 699.0,1236.8 699.3,1236.7 699.7,1236.7 700.0,1236.7 700.3,1236.7 700.7,1236.7 701.0,1236.7 701.3,1236.6 701.6,1236.6 702.0,1236.6 702.3,1236.6 702.6,1236.6 702.9,1236.6 703.3,1236.5 703.6,1236.5 703.9,1236.5 704.2,1236.5 704.6,1236.5 704.9,1236.5 705.2,1236.5 705.5,1236.4 705.9,1236.4 706.2,1236.4 706.5,1236.4 706.9,1236.4 707.2,1236.4 707.5,1236.4 707.8,1236.4 708.2,1236.4 708.5,1236.4 708.8,1236.4 709.1,1236.4 709.5,1236.4 709.8,1236.4 710.1,1236.5 710.4,1236.5 710.8,1236.5 711.1,1236.5 711.4,1236.5 711.7,1236.6 712.1,1236.6 712.4,1236.6 712.7,1236.6 713.1,1236.7 713.4,1236.7 713.7,1236.8 714.0,1236.8 714.4,1236.8 714.7,1236.9 715.0,1236.9 715.3,1237.0 715.7,1237.1 716.0,1237.1 716.3,1237.2 716.6,1237.3 717.0,1237.3 717.3,1237.4 717.6,1237.5 717.9,1237.6 718.3,1237.7 718.6,1237.7 718.9,1237.8 719.3,1237.9 719.6,1238.0 719.9,1238.2 720.2,1238.3 720.6,1238.4 720.9,1238.5 721.2,1238.6 721.5,1238.8 721.9,1238.9 722.2,1239.0 722.5,1239.2 722.8,1239.3 723.2,1239.5 723.5,1239.6 723.8,1239.8 724.1,1240.0 724.5,1240.1 724.8,1240.3 725.1,1240.5 725.5,1240.7 725.8,1240.9 726.1,1241.1 726.4,1241.3 726.8,1241.5 727.1,1241.7" fill="none" stroke="#000" stroke-width="1.35" stroke-linejoin="round" stroke-linecap="round"/>
<polyline points="736.6,1250.9 736.9,1251.3 737.2,1251.7 737.5,1252.1 737.9,1252.5 738.2,1253.0 738.5,1253.4 738.8,1253.8 739.2,1254.3 739.5,1254.7 739.8,1255.2 740.1,1255.6 740.5,1256.1 740.8,1256.6 741.1,1257.0 741.4,1257.5 741.8,1258.0 742.1,1258.5 742.4,1258.9 742.8,1259.4 743.1,1259.9 743.4,1260.4 743.7,1260.9 744.1,1261.4 744.4,1261.9 744.7,1262.4 745.0,1262.9 745.4,1263.4 745.7,1264.0 746.0,1264.5 746.3,1265.0 746.7,1265.5 747.0,1266.0 747.3,1266.6 747.6,1267.1 748.0,1267.6 748.3,1268.1 748.6,1268.7 749.0,1269.2 749.3,1269.7 749.6,1270.3 749.9,1270.8 750.3,1271.3 750.6,1271.9 750.9,1272.4 751.2,1273.0 751.6,1273.5 751.9,1274.0 752.2,1274.6 752.5,1275.1 752.9,1275.7 753.2,1276.2 753.5,1276.7 753.8,1277.3 754.2,1277.8 754.5,1278.3 754.8,1278.9 755.2,1279.4 755.5,1279.9 755.8,1280.5 756.1,1281.0 756.5,1281.5 756.8,1282.1 757.1,1282.6 757.4,1283.1 757.8,1283.7 758.1,1284.2 758.4,1284.7 758.7,1285.2 759.1,1285.7 759.4,1286.2 759.7,1286.8 760.0,1287.3 760.4,1287.8 760.7,1288.3 761.0,1288.8 761.4,1289.3 761.7,1289.8 762.0,1290.3 762.3,1290.7 762.7,1291.2 763.0,1291.7 763.3,1292.2 763.6,1292.7 764.0,1293.1 764.3,1293.6 764.6,1294.1 764.9,1294.5 765.3,1295.0 765.6,1295.4 765.9,1295.9 766.3,1296.3 766.6,1296.7 766.9,1297.2 767.2,1297.6 767.6,1298.0 767.9,1298.4 768.2,1298.8 768.5,1299.2 768.9,1299.6 769.2,1300.0 769.5,1300.4 769.8,1300.8 770.2,1301.2 770.5,1301.5 770.8,1301.9 771.1,1302.2 771.5,1302.6 771.8,1302.9 772.1,1303.3 772.5,1303.6 772.8,1303.9 773.1,1304.2 773.4,1304.5 773.8,1304.8 774.1,1305.1 774.4,1305.4 774.7,1305.7 775.1,1306.0 775.4,1306.2" fill="none" stroke="#000" stroke-width="1.35" stroke-linejoin="round" stroke-linecap="round"/>
<polyline points="787.5,1309.6 787.8,1309.5 788.1,1309.4 788.4,1309.3 788.8,1309.2 789.1,1309.1 789.4,1309.0 789.7,1308.9 790.1,1308.8 790.4,1308.6 790.7,1308.5 791.1,1308.3 791.4,1308.2 791.7,1308.0 792.0,1307.8 792.4,1307.6 792.7,1307.4 793.0,1307.2 793.3,1307.0 793.7,1306.8 794.0,1306.6 794.3,1306.4 794.6,1306.2 795.0,1305.9 795.3,1305.7 795.6,1305.4 795.9,1305.2 796.3,1304.9 796.6,1304.7 796.9,1304.4 797.3,1304.1 797.6,1303.9 797.9,1303.6 798.2,1303.3 798.6,1303.0 798.9,1302.7 799.2,1302.4 799.5,1302.1 799.9,1301.8 800.2,1301.5 800.5,1301.1 800.8,1300.8 801.2,1300.5 801.5,1300.1 801.8,1299.8 802.2,1299.5 802.5,1299.1 802.8,1298.8 803.1,1298.4 803.5,1298.1 803.8,1297.7 804.1,1297.3 804.4,1297.0 804.8,1296.6 805.1,1296.2 805.4,1295.9 805.7,1295.5 806.1,1295.1 806.4,1294.7 806.7,1294.3 807.0,1293.9 807.4,1293.5 807.7,1293.2 808.0,1292.8 808.4,1292.4 808.7,1292.0 809.0,1291.6 809.3,1291.2 809.7,1290.8 810.0,1290.3 810.3,1289.9 810.6,1289.5 811.0,1289.1 811.3,1288.7 811.6,1288.3 811.9,1287.9 812.3,1287.5 812.6,1287.0 812.9,1286.6 813.2,1286.2 813.6,1285.8 813.9,1285.4 814.2,1285.0 814.6,1284.5 814.9,1284.1 815.2,1283.7 815.5,1283.3 815.9,1282.9 816.2,1282.4 816.5,1282.0 816.8,1281.6 817.2,1281.2 817.5,1280.8 817.8,1280.3 818.1,1279.9 818.5,1279.5 818.8,1279.1 819.1,1278.7 819.4,1278.3 819.8,1277.9 820.1,1277.4 820.4,1277.0 820.8,1276.6 821.1,1276.2 821.4,1275.8 821.7,1275.4 822.1,1275.0 822.4,1274.6 822.7,1274.2 823.0,1273.8 823.4,1273.4 823.7,1273.0 824.0,1272.7 824.3,1272.3 824.7,1271.9 825.0,1271.5 825.3,1271.1 825.6,1270.8" fill="none" stroke="#000" stroke-width="1.35" stroke-linejoin="round" stroke-linecap="round"/>
<polyline points="834.8,1261.9 835.1,1261.6 835.4,1261.4 835.8,1261.1 836.1,1260.9 836.4,1260.6 836.7,1260.4 837.1,1260.2 837.4,1259.9 837.7,1259.7 838.1,1259.5 838.4,1259.3 838.7,1259.1 839.0,1258.9 839.4,1258.7 839.7,1258.5 840.0,1258.3 840.3,1258.2 840.7,1258.0 841.0,1257.8 841.3,1257.6 841.6,1257.5 842.0,1257.3 842.3,1257.2 842.6,1257.0 842.9,1256.9 843.3,1256.8 843.6,1256.6 843.9,1256.5 844.3,1256.4 844.6,1256.3 844.9,1256.2 845.2,1256.1 845.6,1256.0 845.9,1255.9 846.2,1255.8 846.5,1255.7 846.9,1255.6 847.2,1255.5 847.5,1255.5 847.8,1255.4 848.2,1255.4 848.5,1255.3 848.8,1255.3 849.1,1255.2 849.5,1255.2 849.8,1255.1 850.1,1255.1 850.5,1255.1 850.8,1255.1 851.1,1255.1 851.4,1255.1 851.8,1255.1 852.1,1255.1 852.4,1255.1 852.7,1255.1 853.1,1255.1 853.4,1255.2 853.7,1255.2 854.0,1255.2 854.4,1255.3 854.7,1255.3 855.0,1255.4 855.3,1255.5 855.7,1255.5 856.0,1255.6 856.3,1255.7 856.7,1255.8 857.0,1255.9 857.3,1256.0 857.6,1256.1 858.0,1256.2 858.3,1256.3 858.6,1256.4 858.9,1256.5 859.3,1256.7 859.6,1256.8 859.9,1256.9 860.2,1257.1 860.6,1257.3 860.9,1257.4 861.2,1257.6 861.5,1257.8 861.9,1257.9 862.2,1258.1 862.5,1258.3 862.9,1258.5 863.2,1258.7 863.5,1258.9 863.8,1259.2 864.2,1259.4 864.5,1259.6 864.8,1259.8 865.1,1260.1 865.5,1260.3 865.8,1260.6 866.1,1260.8 866.4,1261.1 866.8,1261.4 867.1,1261.7 867.4,1262.0 867.7,1262.2 868.1,1262.5 868.4,1262.8 868.7,1263.2 869.1,1263.5 869.4,1263.8 869.7,1264.1 870.0,1264.5 870.4,1264.8 870.7,1265.2 871.0,1265.5 871.3,1265.9 871.7,1266.3 872.0,1266.6 872.3,1267.0 872.6,1267.4 873.0,1267.8 873.3,1268.2 873.6,1268.6 874.0,1269.0 874.3,1269.5 874.6,1269.9 874.9,1270.3 875.3,1270.8" fill="none" stroke="#000" stroke-width="1.35" stroke-linejoin="round" stroke-linecap="round"/>
<polyline points="882.1,1281.7 882.4,1282.3 882.8,1282.9 883.1,1283.5 883.4,1284.1 883.7,1284.7 884.1,1285.3 884.4,1286.0 884.7,1286.6 885.0,1287.3 885.4,1287.9 885.7,1288.6 886.0,1289.2 886.4,1289.9 886.7,1290.6 887.0,1291.2 887.3,1291.9 887.7,1292.6 888.0,1293.3 888.3,1294.0 888.6,1294.7 889.0,1295.5 889.3,1296.2 889.6,1296.9 889.9,1297.6 890.3,1298.4 890.6,1299.1 890.9,1299.9 891.2,1300.6 891.6,1301.4 891.9,1302.1 892.2,1302.9 892.6,1303.7 892.9,1304.5 893.2,1305.2 893.5,1306.0 893.9,1306.8 894.2,1307.6 894.5,1308.4 894.8,1309.2 895.2,1310.0 895.5,1310.9 895.8,1311.7 896.1,1312.5 896.5,1313.3 896.8,1314.2 897.1,1315.0 897.4,1315.9 897.8,1316.7 898.1,1317.6 898.4,1318.4 898.8,1319.3 899.1,1320.1 899.4,1321.0 899.7,1321.9 900.1,1322.8 900.4,1323.6 900.7,1324.5 901.0,1325.4 901.4,1326.3 901.7,1327.2 902.0,1328.1 902.3,1329.0 902.7,1329.9 903.0,1330.8 903.3,1331.8 903.6,1332.7 904.0,1333.6 904.3,1334.5 904.6,1335.4 905.0,1336.4 905.3,1337.3 905.6,1338.3 905.9,1339.2 906.3,1340.1 906.6,1341.1 906.9,1342.0 907.2,1343.0 907.6,1344.0 907.9,1344.9 908.2,1345.9 908.5,1346.8 908.9,1347.8 909.2,1348.8 909.5,1349.8 909.9,1350.7 910.2,1351.7 910.5,1352.7 910.8,1353.7 911.2,1354.7 911.5,1355.7 911.8,1356.6 912.1,1357.6 912.5,1358.6 912.8,1359.6 913.1,1360.6 913.4,1361.6 913.8,1362.6 914.1,1363.6 914.4,1364.7 914.7,1365.7 915.1,1366.7 915.4,1367.7 915.7,1368.7 916.1,1369.7 916.4,1370.7 916.7,1371.8 917.0,1372.8 917.4,1373.8 917.7,1374.8 918.0,1375.9 918.3,1376.9 918.7,1377.9 919.0,1378.9 919.3,1380.0 919.6,1381.0 920.0,1382.0 920.3,1383.1 920.6,1384.1 920.9,1385.2 921.3,1386.2 921.6,1387.2 921.9,1388.3 922.3,1389.3 922.6,1390.4 922.9,1391.4 923.2,1392.4 923.6,1393.5 923.9,1394.5 924.2,1395.6 924.5,1396.6 924.9,1397.7 925.2,1398.7 925.5,1399.8 925.8,1400.8" fill="none" stroke="#000" stroke-width="1.35" stroke-linejoin="round" stroke-linecap="round"/>
<rect x="631.30" y="1192.53" width="6.2" height="6.2" fill="#000"/>
<rect x="680.20" y="1232.81" width="6.2" height="6.2" fill="#000"/>
<rect x="729.10" y="1242.88" width="6.2" height="6.2" fill="#000"/>
<rect x="778.00" y="1306.32" width="6.2" height="6.2" fill="#000"/>
<rect x="826.90" y="1263.02" width="6.2" height="6.2" fill="#000"/>
<rect x="875.80" y="1273.09" width="6.2" height="6.2" fill="#000"/>
<rect x="924.70" y="1404.00" width="6.2" height="6.2" fill="#000"/>
<text transform="translate(617.84,1233.75) scale(1.1025,1)" font-size="15.00" font-weight="bold" fill="#000">ZnO</text>
<text transform="translate(655.82,1259.50) scale(0.9886,1)" font-size="17.24" font-weight="bold" fill="#000">Cu(0.5)</text>
<text transform="translate(734.07,1230.75) scale(1.1011,1)" font-size="15.52" font-weight="bold" fill="#000">Al(0.5)</text>
<text transform="translate(810.08,1245.75) scale(1.0866,1)" font-size="15.52" font-weight="bold" fill="#000">Al(1)</text>
<text transform="translate(891.57,1279.00) scale(1.1016,1)" font-size="15.52" font-weight="bold" fill="#000">Al(3)</text>
<text transform="translate(752.32,1337.00) scale(1.0978,1)" font-size="15.52" font-weight="bold" fill="#000">CuAl(0.5)</text>
<text transform="translate(877.58,1411.50) scale(1.0941,1)" font-size="15.52" font-weight="bold" fill="#000">Al(5)</text>
</svg>
</body>
</html>
